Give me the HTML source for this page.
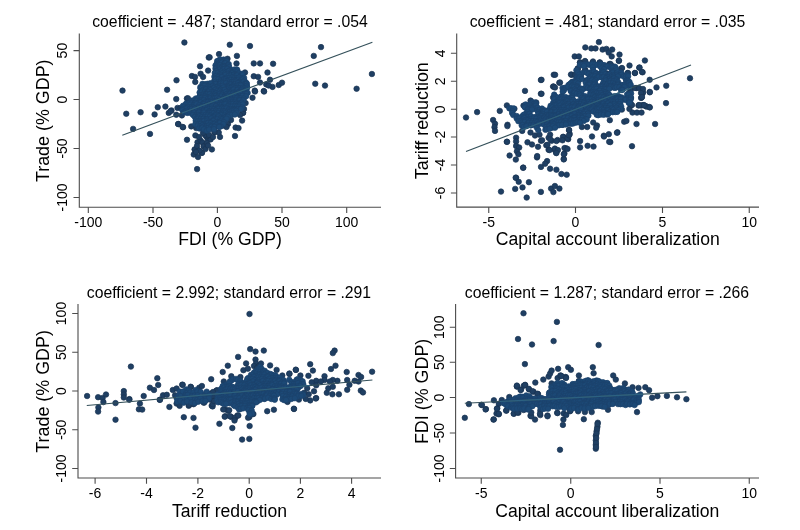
<!DOCTYPE html>
<html lang="en"><head><meta charset="utf-8"><title>Scatter plots</title>
<style>
html,body{margin:0;padding:0;background:#fff;}
body{width:800px;height:530px;overflow:hidden;}
svg{display:block;}
svg text{font-family:"Liberation Sans",sans-serif;fill:#000;}
.t{font-size:15.75px;text-anchor:middle;}
.l{font-size:17.6px;text-anchor:middle;}
.y{font-size:17.9px;text-anchor:middle;}
.k{font-size:14px;text-anchor:middle;}
.a{stroke:#4c4c4c;stroke-width:1.1;fill:none;}
.d circle{fill:#1f3f63;stroke:#1a3452;stroke-width:0.7;}
.c circle{fill:#1c4976;stroke:#1b426c;stroke-width:0.7;}
.f{stroke:#34505a;stroke-width:1.15;fill:none;}
.g{stroke:#2c6182;stroke-width:1.1;fill:none;}
</style></head>
<body>
<svg width="800" height="530" viewBox="0 0 800 530">
<rect width="800" height="530" fill="#fff"/>
<g id="p1">
<path class="a" d="M79.3 33.5V207.2H381"/>
<path class="a" d="M88.3 207.2v5.8M153 207.2v5.8M217.4 207.2v5.8M282 207.2v5.8M346.7 207.2v5.8M79.3 50.6h-5.8M79.3 99.5h-5.8M79.3 148.5h-5.8M79.3 197.5h-5.8"/>
<text class="k" x="88.3" y="227">-100</text>
<text class="k" x="153" y="227">-50</text>
<text class="k" x="217.4" y="227">0</text>
<text class="k" x="282" y="227">50</text>
<text class="k" x="346.7" y="227">100</text>
<text class="k" transform="translate(67 50.6) rotate(-90)">50</text>
<text class="k" transform="translate(67 99.5) rotate(-90)">0</text>
<text class="k" transform="translate(67 148.5) rotate(-90)">-50</text>
<text class="k" transform="translate(67 197.5) rotate(-90)">-100</text>
<text class="t" x="230" y="26.6">coefficient = .487; standard error = .054</text>
<text class="l" x="230.15" y="245.4">FDI (% GDP)</text>
<text class="y" transform="translate(49 120.75) rotate(-90)">Trade (% GDP)</text>
<g class="d"><circle cx="184.4" cy="42.5" r="2.75"/><circle cx="208.75" cy="57.5" r="2.75"/><circle cx="200" cy="66.25" r="2.75"/><circle cx="208.1" cy="70.6" r="2.75"/><circle cx="200.6" cy="73.75" r="2.75"/><circle cx="203.1" cy="76.9" r="2.75"/><circle cx="191.9" cy="76" r="2.75"/><circle cx="195" cy="76.9" r="2.75"/><circle cx="195.25" cy="81.9" r="2.75"/><circle cx="176.5" cy="80.25" r="2.75"/><circle cx="167.1" cy="89.75" r="2.75"/><circle cx="122.5" cy="90.6" r="2.75"/><circle cx="126.25" cy="113.75" r="2.75"/><circle cx="140.6" cy="112.25" r="2.75"/><circle cx="154.6" cy="114.4" r="2.75"/><circle cx="157.75" cy="107.25" r="2.75"/><circle cx="165.4" cy="106.6" r="2.75"/><circle cx="168.75" cy="112.9" r="2.75"/><circle cx="171.5" cy="110.4" r="2.75"/><circle cx="176.25" cy="99.1" r="2.75"/><circle cx="133.1" cy="128.9" r="2.75"/><circle cx="150" cy="133.9" r="2.75"/><circle cx="178.4" cy="124.1" r="2.75"/><circle cx="183.1" cy="127.25" r="2.75"/><circle cx="191.25" cy="126.4" r="2.75"/><circle cx="187" cy="139.75" r="2.75"/><circle cx="195.4" cy="135.4" r="2.75"/><circle cx="197.5" cy="142.25" r="2.75"/><circle cx="200.6" cy="140.4" r="2.75"/><circle cx="195" cy="149.75" r="2.75"/><circle cx="193.75" cy="154.5" r="2.75"/><circle cx="201.9" cy="152.9" r="2.75"/><circle cx="203.75" cy="146" r="2.75"/><circle cx="207.5" cy="138.5" r="2.75"/><circle cx="177.5" cy="107.9" r="2.75"/><circle cx="180.6" cy="107.9" r="2.75"/><circle cx="176.25" cy="114.75" r="2.75"/><circle cx="181.9" cy="115.4" r="2.75"/><circle cx="186.9" cy="98.5" r="2.75"/><circle cx="229.75" cy="44.75" r="2.75"/><circle cx="250" cy="46" r="2.75"/><circle cx="219" cy="54.1" r="2.75"/><circle cx="209.6" cy="57.25" r="2.75"/><circle cx="236.9" cy="55.9" r="2.75"/><circle cx="227.5" cy="58.75" r="2.75"/><circle cx="253.75" cy="63.4" r="2.75"/><circle cx="260" cy="63.4" r="2.75"/><circle cx="273.1" cy="63.75" r="2.75"/><circle cx="236.5" cy="63.5" r="2.75"/><circle cx="267.5" cy="72.5" r="2.75"/><circle cx="245" cy="72.5" r="2.75"/><circle cx="253.75" cy="76.25" r="2.75"/><circle cx="258.1" cy="76.9" r="2.75"/><circle cx="270" cy="79.75" r="2.75"/><circle cx="278.75" cy="85" r="2.75"/><circle cx="272.5" cy="86.9" r="2.75"/><circle cx="266.25" cy="84.4" r="2.75"/><circle cx="263.75" cy="91" r="2.75"/><circle cx="254.75" cy="90.6" r="2.75"/><circle cx="260" cy="82.5" r="2.75"/><circle cx="321" cy="47.1" r="2.75"/><circle cx="313.75" cy="55.9" r="2.75"/><circle cx="371.9" cy="74" r="2.75"/><circle cx="315.25" cy="83.75" r="2.75"/><circle cx="325" cy="85.6" r="2.75"/><circle cx="356.6" cy="88.75" r="2.75"/><circle cx="255" cy="91.5" r="2.75"/><circle cx="264.1" cy="91.5" r="2.75"/><circle cx="252.5" cy="97.75" r="2.75"/><circle cx="245.6" cy="103.1" r="2.75"/><circle cx="243.1" cy="112.9" r="2.75"/><circle cx="242.1" cy="120.6" r="2.75"/><circle cx="235.6" cy="127.5" r="2.75"/><circle cx="238.5" cy="128.1" r="2.75"/><circle cx="235" cy="136" r="2.75"/><circle cx="223.1" cy="125.6" r="2.75"/><circle cx="220" cy="136.9" r="2.75"/><circle cx="215" cy="131.9" r="2.75"/><circle cx="218.75" cy="132.5" r="2.75"/><circle cx="210.6" cy="139.4" r="2.75"/><circle cx="211.9" cy="149.4" r="2.75"/><circle cx="233.75" cy="113.75" r="2.75"/><circle cx="205" cy="130" r="2.75"/><circle cx="206.25" cy="136.25" r="2.75"/><circle cx="202.5" cy="142.5" r="2.75"/><circle cx="203.75" cy="146.25" r="2.75"/><circle cx="201.9" cy="152.5" r="2.75"/><circle cx="197.1" cy="169.1" r="2.75"/><circle cx="194.6" cy="149.4" r="2.75"/><circle cx="206.9" cy="143.1" r="2.75"/><circle cx="205" cy="135" r="2.75"/><circle cx="204.4" cy="130.6" r="2.75"/><circle cx="214.4" cy="131.9" r="2.75"/><circle cx="196.25" cy="128.1" r="2.75"/><circle cx="187.9" cy="98.3" r="2.75"/><circle cx="170.6" cy="111.1" r="2.75"/><circle cx="182.6" cy="108.1" r="2.75"/><circle cx="268.7" cy="85.5" r="2.75"/><circle cx="178.1" cy="124" r="2.75"/><circle cx="182.6" cy="127" r="2.75"/><circle cx="243" cy="112.6" r="2.75"/><circle cx="228" cy="124" r="2.75"/><circle cx="231" cy="120" r="2.75"/><circle cx="240" cy="115" r="2.75"/><circle cx="244" cy="109" r="2.75"/><circle cx="209" cy="135" r="2.75"/><circle cx="203" cy="133" r="2.75"/><circle cx="213" cy="137" r="2.75"/><circle cx="199" cy="137" r="2.75"/><circle cx="226.5" cy="127" r="2.75"/><circle cx="282" cy="82.7" r="2.75"/><circle cx="197" cy="146" r="2.75"/><circle cx="199.5" cy="150.5" r="2.75"/><circle cx="205.5" cy="149" r="2.75"/><circle cx="208" cy="145.5" r="2.75"/><circle cx="198" cy="157" r="2.75"/><circle cx="196" cy="152" r="2.75"/></g>
<g class="c"><circle cx="219.3" cy="60" r="2.75"/><circle cx="220.4" cy="59.4" r="2.75"/><circle cx="223.7" cy="59.6" r="2.75"/><circle cx="225.8" cy="60.1" r="2.75"/><circle cx="217.2" cy="61.1" r="2.75"/><circle cx="220.7" cy="62" r="2.75"/><circle cx="223.2" cy="61" r="2.75"/><circle cx="225" cy="60.9" r="2.75"/><circle cx="226.6" cy="61.2" r="2.75"/><circle cx="216.7" cy="63.8" r="2.75"/><circle cx="218.7" cy="63.8" r="2.75"/><circle cx="222" cy="62.6" r="2.75"/><circle cx="224.5" cy="63.7" r="2.75"/><circle cx="225.4" cy="63.2" r="2.75"/><circle cx="228.7" cy="64.1" r="2.75"/><circle cx="215.5" cy="65.4" r="2.75"/><circle cx="218.3" cy="65.5" r="2.75"/><circle cx="219.8" cy="65.2" r="2.75"/><circle cx="223.1" cy="66.1" r="2.75"/><circle cx="224.4" cy="66" r="2.75"/><circle cx="228.1" cy="65.4" r="2.75"/><circle cx="216" cy="67.7" r="2.75"/><circle cx="219.1" cy="67.5" r="2.75"/><circle cx="221.9" cy="67.7" r="2.75"/><circle cx="224.3" cy="67" r="2.75"/><circle cx="226.5" cy="68" r="2.75"/><circle cx="229.2" cy="67.1" r="2.75"/><circle cx="215.5" cy="68.7" r="2.75"/><circle cx="218.1" cy="70.2" r="2.75"/><circle cx="219.5" cy="69.5" r="2.75"/><circle cx="222.9" cy="69.4" r="2.75"/><circle cx="224.4" cy="68.9" r="2.75"/><circle cx="227.3" cy="68.7" r="2.75"/><circle cx="230.4" cy="70.1" r="2.75"/><circle cx="232.5" cy="70.2" r="2.75"/><circle cx="234.7" cy="69.4" r="2.75"/><circle cx="237.1" cy="69.6" r="2.75"/><circle cx="216.3" cy="70.9" r="2.75"/><circle cx="218.5" cy="72.4" r="2.75"/><circle cx="221.4" cy="71.6" r="2.75"/><circle cx="224.5" cy="71.7" r="2.75"/><circle cx="227" cy="71.9" r="2.75"/><circle cx="229.1" cy="70.9" r="2.75"/><circle cx="231.1" cy="72.1" r="2.75"/><circle cx="232.5" cy="72.4" r="2.75"/><circle cx="235.1" cy="71.6" r="2.75"/><circle cx="237.5" cy="71.6" r="2.75"/><circle cx="214.8" cy="72.9" r="2.75"/><circle cx="217.8" cy="73" r="2.75"/><circle cx="220" cy="74" r="2.75"/><circle cx="222.4" cy="73.3" r="2.75"/><circle cx="225" cy="73.6" r="2.75"/><circle cx="227.8" cy="73.8" r="2.75"/><circle cx="230.6" cy="74.5" r="2.75"/><circle cx="232.5" cy="73.2" r="2.75"/><circle cx="233.8" cy="74.4" r="2.75"/><circle cx="237.4" cy="73.9" r="2.75"/><circle cx="239" cy="73.3" r="2.75"/><circle cx="242" cy="73.8" r="2.75"/><circle cx="214.4" cy="76.7" r="2.75"/><circle cx="216.2" cy="75.9" r="2.75"/><circle cx="219.3" cy="76.5" r="2.75"/><circle cx="221.2" cy="75.5" r="2.75"/><circle cx="223" cy="76.5" r="2.75"/><circle cx="225.3" cy="75" r="2.75"/><circle cx="228.6" cy="75.8" r="2.75"/><circle cx="231.2" cy="75.4" r="2.75"/><circle cx="233.8" cy="75" r="2.75"/><circle cx="235.2" cy="76.1" r="2.75"/><circle cx="237.3" cy="75.4" r="2.75"/><circle cx="240.9" cy="76.1" r="2.75"/><circle cx="242.5" cy="75.1" r="2.75"/><circle cx="216.1" cy="78.1" r="2.75"/><circle cx="218.2" cy="77.1" r="2.75"/><circle cx="220.2" cy="78.4" r="2.75"/><circle cx="221.8" cy="77.1" r="2.75"/><circle cx="225.3" cy="78.6" r="2.75"/><circle cx="226.6" cy="78.1" r="2.75"/><circle cx="229.1" cy="78.3" r="2.75"/><circle cx="232.4" cy="77.4" r="2.75"/><circle cx="234" cy="78.3" r="2.75"/><circle cx="236.9" cy="78.3" r="2.75"/><circle cx="239.1" cy="77.6" r="2.75"/><circle cx="242.5" cy="78.2" r="2.75"/><circle cx="244.1" cy="77.9" r="2.75"/><circle cx="214.3" cy="80.7" r="2.75"/><circle cx="215.7" cy="79.2" r="2.75"/><circle cx="218.3" cy="79.4" r="2.75"/><circle cx="220.8" cy="80.3" r="2.75"/><circle cx="223.9" cy="79.4" r="2.75"/><circle cx="225.5" cy="79.5" r="2.75"/><circle cx="227.9" cy="80.4" r="2.75"/><circle cx="230.6" cy="80" r="2.75"/><circle cx="233.9" cy="79.9" r="2.75"/><circle cx="235.3" cy="80.6" r="2.75"/><circle cx="238.8" cy="79.7" r="2.75"/><circle cx="240.6" cy="80.8" r="2.75"/><circle cx="242.9" cy="79.4" r="2.75"/><circle cx="244.5" cy="80.7" r="2.75"/><circle cx="215.3" cy="82" r="2.75"/><circle cx="218.5" cy="82.2" r="2.75"/><circle cx="220.7" cy="81.7" r="2.75"/><circle cx="223" cy="81.9" r="2.75"/><circle cx="225.7" cy="81.3" r="2.75"/><circle cx="227.9" cy="81.5" r="2.75"/><circle cx="229.8" cy="82.1" r="2.75"/><circle cx="231.5" cy="82.6" r="2.75"/><circle cx="234.2" cy="81.7" r="2.75"/><circle cx="236.1" cy="81.7" r="2.75"/><circle cx="239.2" cy="82.4" r="2.75"/><circle cx="241.4" cy="82.4" r="2.75"/><circle cx="243.4" cy="81.8" r="2.75"/><circle cx="246.4" cy="82.9" r="2.75"/><circle cx="202.5" cy="83.8" r="2.75"/><circle cx="205.3" cy="84.2" r="2.75"/><circle cx="207.3" cy="83.8" r="2.75"/><circle cx="209.9" cy="83.4" r="2.75"/><circle cx="211.1" cy="83.4" r="2.75"/><circle cx="214.4" cy="84.5" r="2.75"/><circle cx="215.9" cy="83.9" r="2.75"/><circle cx="219.5" cy="84.3" r="2.75"/><circle cx="220.6" cy="83.6" r="2.75"/><circle cx="223.1" cy="83.4" r="2.75"/><circle cx="225.9" cy="83.3" r="2.75"/><circle cx="229.3" cy="84" r="2.75"/><circle cx="230.9" cy="84.4" r="2.75"/><circle cx="233.8" cy="84.7" r="2.75"/><circle cx="235.5" cy="83.8" r="2.75"/><circle cx="237.9" cy="83.2" r="2.75"/><circle cx="240.3" cy="84.5" r="2.75"/><circle cx="243.8" cy="84.6" r="2.75"/><circle cx="245.6" cy="84.3" r="2.75"/><circle cx="246.8" cy="83.8" r="2.75"/><circle cx="200.4" cy="87" r="2.75"/><circle cx="203.5" cy="85.6" r="2.75"/><circle cx="204.9" cy="85.7" r="2.75"/><circle cx="208.2" cy="86.5" r="2.75"/><circle cx="210.2" cy="86.9" r="2.75"/><circle cx="212.7" cy="86.1" r="2.75"/><circle cx="214.6" cy="87" r="2.75"/><circle cx="217" cy="86.9" r="2.75"/><circle cx="220.2" cy="86.3" r="2.75"/><circle cx="222.6" cy="85.8" r="2.75"/><circle cx="225.6" cy="87.1" r="2.75"/><circle cx="227.9" cy="86.4" r="2.75"/><circle cx="229" cy="86.8" r="2.75"/><circle cx="231.7" cy="86.9" r="2.75"/><circle cx="234" cy="86.3" r="2.75"/><circle cx="237.5" cy="85.6" r="2.75"/><circle cx="239.4" cy="85.4" r="2.75"/><circle cx="240.9" cy="85.6" r="2.75"/><circle cx="245" cy="87" r="2.75"/><circle cx="246.8" cy="85.8" r="2.75"/><circle cx="200.5" cy="88.4" r="2.75"/><circle cx="202" cy="88.1" r="2.75"/><circle cx="204.7" cy="88.6" r="2.75"/><circle cx="207.4" cy="88.7" r="2.75"/><circle cx="209.3" cy="89.1" r="2.75"/><circle cx="212.3" cy="88.9" r="2.75"/><circle cx="213.9" cy="88.1" r="2.75"/><circle cx="216.6" cy="89" r="2.75"/><circle cx="218.9" cy="88.3" r="2.75"/><circle cx="221.2" cy="89" r="2.75"/><circle cx="223.4" cy="87.5" r="2.75"/><circle cx="226.5" cy="89" r="2.75"/><circle cx="228.9" cy="88.4" r="2.75"/><circle cx="231.4" cy="87.9" r="2.75"/><circle cx="233.5" cy="87.5" r="2.75"/><circle cx="235" cy="88.2" r="2.75"/><circle cx="238.1" cy="88.1" r="2.75"/><circle cx="239.7" cy="88.6" r="2.75"/><circle cx="242.9" cy="87.8" r="2.75"/><circle cx="245" cy="88.1" r="2.75"/><circle cx="247.2" cy="87.5" r="2.75"/><circle cx="201.6" cy="90.9" r="2.75"/><circle cx="203.1" cy="90.1" r="2.75"/><circle cx="205.9" cy="89.5" r="2.75"/><circle cx="207.3" cy="91.1" r="2.75"/><circle cx="210.2" cy="90.3" r="2.75"/><circle cx="213.7" cy="91.2" r="2.75"/><circle cx="215.3" cy="89.8" r="2.75"/><circle cx="217.3" cy="91.1" r="2.75"/><circle cx="220.8" cy="89.8" r="2.75"/><circle cx="223.1" cy="90.1" r="2.75"/><circle cx="224.9" cy="89.7" r="2.75"/><circle cx="228" cy="91.2" r="2.75"/><circle cx="229.2" cy="90.6" r="2.75"/><circle cx="231.5" cy="91" r="2.75"/><circle cx="233.7" cy="89.6" r="2.75"/><circle cx="237.3" cy="90" r="2.75"/><circle cx="240" cy="91" r="2.75"/><circle cx="242.1" cy="89.7" r="2.75"/><circle cx="244.5" cy="91.1" r="2.75"/><circle cx="246.4" cy="89.6" r="2.75"/><circle cx="199.6" cy="92.5" r="2.75"/><circle cx="202.2" cy="91.6" r="2.75"/><circle cx="204.7" cy="92" r="2.75"/><circle cx="206.5" cy="93" r="2.75"/><circle cx="208.6" cy="92" r="2.75"/><circle cx="212.2" cy="92" r="2.75"/><circle cx="213.7" cy="92.5" r="2.75"/><circle cx="215.9" cy="93.1" r="2.75"/><circle cx="219.8" cy="91.6" r="2.75"/><circle cx="221.2" cy="92.9" r="2.75"/><circle cx="223.5" cy="93.2" r="2.75"/><circle cx="226.1" cy="91.8" r="2.75"/><circle cx="228.6" cy="92.7" r="2.75"/><circle cx="230.6" cy="92.7" r="2.75"/><circle cx="233.8" cy="92.4" r="2.75"/><circle cx="235.7" cy="93" r="2.75"/><circle cx="238.4" cy="92.4" r="2.75"/><circle cx="241.3" cy="91.8" r="2.75"/><circle cx="243.4" cy="91.8" r="2.75"/><circle cx="245.5" cy="91.9" r="2.75"/><circle cx="247.6" cy="92.9" r="2.75"/><circle cx="200.1" cy="95.2" r="2.75"/><circle cx="203.4" cy="94.6" r="2.75"/><circle cx="206.2" cy="94" r="2.75"/><circle cx="207.5" cy="94.1" r="2.75"/><circle cx="209.7" cy="94.2" r="2.75"/><circle cx="213.1" cy="94.5" r="2.75"/><circle cx="214.9" cy="94.6" r="2.75"/><circle cx="217" cy="95.1" r="2.75"/><circle cx="219.5" cy="94" r="2.75"/><circle cx="221.9" cy="94.8" r="2.75"/><circle cx="225.5" cy="95" r="2.75"/><circle cx="226.5" cy="94.3" r="2.75"/><circle cx="229.5" cy="94" r="2.75"/><circle cx="232.9" cy="93.7" r="2.75"/><circle cx="234.5" cy="95" r="2.75"/><circle cx="237.8" cy="93.8" r="2.75"/><circle cx="239.2" cy="94.9" r="2.75"/><circle cx="240.9" cy="94" r="2.75"/><circle cx="244.8" cy="93.8" r="2.75"/><circle cx="246.3" cy="94.1" r="2.75"/><circle cx="199.4" cy="96.9" r="2.75"/><circle cx="202.8" cy="96.7" r="2.75"/><circle cx="205.2" cy="96.5" r="2.75"/><circle cx="206.7" cy="97.2" r="2.75"/><circle cx="209.1" cy="97.1" r="2.75"/><circle cx="211.2" cy="96.3" r="2.75"/><circle cx="213.5" cy="96.7" r="2.75"/><circle cx="215.9" cy="96" r="2.75"/><circle cx="218.4" cy="96.5" r="2.75"/><circle cx="221" cy="96.5" r="2.75"/><circle cx="224.6" cy="96.9" r="2.75"/><circle cx="226.8" cy="96" r="2.75"/><circle cx="228.3" cy="95.8" r="2.75"/><circle cx="231.2" cy="96.3" r="2.75"/><circle cx="232.9" cy="95.7" r="2.75"/><circle cx="235.1" cy="96.1" r="2.75"/><circle cx="237.9" cy="97.3" r="2.75"/><circle cx="240.9" cy="96.2" r="2.75"/><circle cx="242.6" cy="95.9" r="2.75"/><circle cx="246.1" cy="96.3" r="2.75"/><circle cx="195.8" cy="98.5" r="2.75"/><circle cx="198.6" cy="98" r="2.75"/><circle cx="201.3" cy="98.2" r="2.75"/><circle cx="203.7" cy="98.9" r="2.75"/><circle cx="205.1" cy="98.1" r="2.75"/><circle cx="207.7" cy="99" r="2.75"/><circle cx="210.3" cy="98.4" r="2.75"/><circle cx="213.6" cy="98.2" r="2.75"/><circle cx="214.9" cy="98.4" r="2.75"/><circle cx="217.2" cy="97.8" r="2.75"/><circle cx="219.2" cy="98.9" r="2.75"/><circle cx="222.6" cy="99.2" r="2.75"/><circle cx="225.8" cy="98.3" r="2.75"/><circle cx="227.6" cy="99.4" r="2.75"/><circle cx="229.2" cy="99" r="2.75"/><circle cx="232.4" cy="99.5" r="2.75"/><circle cx="235.2" cy="98.2" r="2.75"/><circle cx="237.1" cy="97.9" r="2.75"/><circle cx="239.2" cy="98.5" r="2.75"/><circle cx="240.9" cy="98.4" r="2.75"/><circle cx="243.8" cy="98.6" r="2.75"/><circle cx="192.3" cy="100.5" r="2.75"/><circle cx="194.1" cy="100.6" r="2.75"/><circle cx="196.5" cy="100.7" r="2.75"/><circle cx="199.9" cy="100.7" r="2.75"/><circle cx="201.8" cy="100.3" r="2.75"/><circle cx="203.6" cy="100.4" r="2.75"/><circle cx="207.6" cy="100.8" r="2.75"/><circle cx="208.9" cy="101" r="2.75"/><circle cx="211.1" cy="100.7" r="2.75"/><circle cx="214.3" cy="101.5" r="2.75"/><circle cx="216.3" cy="100.9" r="2.75"/><circle cx="219.7" cy="101.2" r="2.75"/><circle cx="221.5" cy="100.9" r="2.75"/><circle cx="223.5" cy="100.6" r="2.75"/><circle cx="225.7" cy="101.3" r="2.75"/><circle cx="229.2" cy="100.5" r="2.75"/><circle cx="231.6" cy="99.9" r="2.75"/><circle cx="232.6" cy="100.7" r="2.75"/><circle cx="235.4" cy="100.5" r="2.75"/><circle cx="239" cy="100.1" r="2.75"/><circle cx="239.9" cy="100.2" r="2.75"/><circle cx="243.2" cy="100.2" r="2.75"/><circle cx="186.2" cy="103.5" r="2.75"/><circle cx="188.6" cy="103.2" r="2.75"/><circle cx="191.7" cy="103.1" r="2.75"/><circle cx="194.5" cy="103.4" r="2.75"/><circle cx="195.5" cy="103" r="2.75"/><circle cx="198.5" cy="102.9" r="2.75"/><circle cx="200.7" cy="102.4" r="2.75"/><circle cx="203.7" cy="102.9" r="2.75"/><circle cx="205.2" cy="102.4" r="2.75"/><circle cx="207.8" cy="102.2" r="2.75"/><circle cx="210.5" cy="102.1" r="2.75"/><circle cx="212.1" cy="102" r="2.75"/><circle cx="214.6" cy="103.2" r="2.75"/><circle cx="217" cy="102.7" r="2.75"/><circle cx="220.6" cy="102.8" r="2.75"/><circle cx="221.9" cy="103.5" r="2.75"/><circle cx="225.6" cy="102" r="2.75"/><circle cx="226.9" cy="102.8" r="2.75"/><circle cx="230.2" cy="102.6" r="2.75"/><circle cx="232.5" cy="102.4" r="2.75"/><circle cx="234.9" cy="102.5" r="2.75"/><circle cx="236.6" cy="103.3" r="2.75"/><circle cx="239.9" cy="103.4" r="2.75"/><circle cx="241.8" cy="102.7" r="2.75"/><circle cx="183.1" cy="105.7" r="2.75"/><circle cx="186.1" cy="104.2" r="2.75"/><circle cx="188" cy="104.7" r="2.75"/><circle cx="190.3" cy="104.7" r="2.75"/><circle cx="193.3" cy="105.8" r="2.75"/><circle cx="194.1" cy="105.3" r="2.75"/><circle cx="196.6" cy="104.1" r="2.75"/><circle cx="199.3" cy="105.3" r="2.75"/><circle cx="203" cy="104.2" r="2.75"/><circle cx="204.2" cy="104" r="2.75"/><circle cx="207" cy="104.9" r="2.75"/><circle cx="209.1" cy="104.5" r="2.75"/><circle cx="212.2" cy="105.5" r="2.75"/><circle cx="213.7" cy="104.7" r="2.75"/><circle cx="216.7" cy="105.4" r="2.75"/><circle cx="219.8" cy="104.7" r="2.75"/><circle cx="221.6" cy="105" r="2.75"/><circle cx="224.2" cy="104.2" r="2.75"/><circle cx="225.5" cy="104.2" r="2.75"/><circle cx="229.3" cy="104.4" r="2.75"/><circle cx="230.9" cy="104.2" r="2.75"/><circle cx="233" cy="104" r="2.75"/><circle cx="235.8" cy="104.2" r="2.75"/><circle cx="238.3" cy="104.5" r="2.75"/><circle cx="240" cy="104.8" r="2.75"/><circle cx="242.7" cy="104.4" r="2.75"/><circle cx="184.1" cy="106.8" r="2.75"/><circle cx="187.1" cy="106.8" r="2.75"/><circle cx="188.1" cy="107.1" r="2.75"/><circle cx="191.6" cy="107.2" r="2.75"/><circle cx="193.3" cy="107.7" r="2.75"/><circle cx="196.8" cy="107.8" r="2.75"/><circle cx="198.4" cy="107.6" r="2.75"/><circle cx="201.3" cy="106.4" r="2.75"/><circle cx="202.4" cy="106.4" r="2.75"/><circle cx="205" cy="106.2" r="2.75"/><circle cx="207.8" cy="107.4" r="2.75"/><circle cx="210.2" cy="107" r="2.75"/><circle cx="212" cy="106.4" r="2.75"/><circle cx="216.1" cy="106.1" r="2.75"/><circle cx="217.7" cy="107.5" r="2.75"/><circle cx="220.6" cy="107.4" r="2.75"/><circle cx="222.3" cy="107.5" r="2.75"/><circle cx="225.5" cy="107.4" r="2.75"/><circle cx="228.2" cy="106.2" r="2.75"/><circle cx="230.5" cy="106.8" r="2.75"/><circle cx="232.5" cy="106.5" r="2.75"/><circle cx="235.2" cy="106.1" r="2.75"/><circle cx="237" cy="106.5" r="2.75"/><circle cx="239.1" cy="106.7" r="2.75"/><circle cx="242" cy="107.5" r="2.75"/><circle cx="183.3" cy="109.1" r="2.75"/><circle cx="185.6" cy="108.5" r="2.75"/><circle cx="187" cy="108.4" r="2.75"/><circle cx="189.8" cy="108.9" r="2.75"/><circle cx="191.6" cy="109" r="2.75"/><circle cx="194.7" cy="108.7" r="2.75"/><circle cx="197.4" cy="109.9" r="2.75"/><circle cx="199.2" cy="109.7" r="2.75"/><circle cx="201.8" cy="109.5" r="2.75"/><circle cx="203.8" cy="109.9" r="2.75"/><circle cx="206.8" cy="109.9" r="2.75"/><circle cx="208.8" cy="108.9" r="2.75"/><circle cx="212.1" cy="108.5" r="2.75"/><circle cx="213.7" cy="109.4" r="2.75"/><circle cx="217.3" cy="108.7" r="2.75"/><circle cx="218.3" cy="108.8" r="2.75"/><circle cx="222.2" cy="108.4" r="2.75"/><circle cx="223.9" cy="108.8" r="2.75"/><circle cx="226.4" cy="108.5" r="2.75"/><circle cx="228.7" cy="109.7" r="2.75"/><circle cx="231.5" cy="109.3" r="2.75"/><circle cx="233.3" cy="109.2" r="2.75"/><circle cx="235" cy="109.6" r="2.75"/><circle cx="238.4" cy="109" r="2.75"/><circle cx="240.8" cy="108.9" r="2.75"/><circle cx="182.5" cy="110.5" r="2.75"/><circle cx="184" cy="112" r="2.75"/><circle cx="186.9" cy="110.8" r="2.75"/><circle cx="189.3" cy="112" r="2.75"/><circle cx="191.1" cy="111.8" r="2.75"/><circle cx="193" cy="112" r="2.75"/><circle cx="196.1" cy="110.6" r="2.75"/><circle cx="199.1" cy="111.4" r="2.75"/><circle cx="201.7" cy="111.7" r="2.75"/><circle cx="203.8" cy="111.1" r="2.75"/><circle cx="206.6" cy="110.3" r="2.75"/><circle cx="208.8" cy="111.5" r="2.75"/><circle cx="210.1" cy="111.7" r="2.75"/><circle cx="212.8" cy="111.2" r="2.75"/><circle cx="216" cy="110.6" r="2.75"/><circle cx="217.3" cy="111.4" r="2.75"/><circle cx="219.3" cy="111.2" r="2.75"/><circle cx="223" cy="111.1" r="2.75"/><circle cx="224.4" cy="111.7" r="2.75"/><circle cx="227.9" cy="111.6" r="2.75"/><circle cx="229.8" cy="111.8" r="2.75"/><circle cx="232.6" cy="110.5" r="2.75"/><circle cx="234.3" cy="110.4" r="2.75"/><circle cx="236.1" cy="110.8" r="2.75"/><circle cx="185.2" cy="112.3" r="2.75"/><circle cx="187.4" cy="112.9" r="2.75"/><circle cx="190.3" cy="112.8" r="2.75"/><circle cx="192.7" cy="113.5" r="2.75"/><circle cx="194.3" cy="112.5" r="2.75"/><circle cx="197.6" cy="113.1" r="2.75"/><circle cx="199" cy="112.5" r="2.75"/><circle cx="202.9" cy="113.4" r="2.75"/><circle cx="204.2" cy="112.6" r="2.75"/><circle cx="207.8" cy="113.5" r="2.75"/><circle cx="209.7" cy="112.9" r="2.75"/><circle cx="211.4" cy="113" r="2.75"/><circle cx="213.5" cy="113.4" r="2.75"/><circle cx="216.4" cy="113.8" r="2.75"/><circle cx="218.7" cy="113.1" r="2.75"/><circle cx="221.3" cy="114" r="2.75"/><circle cx="223.4" cy="113.6" r="2.75"/><circle cx="225.6" cy="113.3" r="2.75"/><circle cx="228.1" cy="113.9" r="2.75"/><circle cx="230.5" cy="113.8" r="2.75"/><circle cx="233.6" cy="113.1" r="2.75"/><circle cx="236.5" cy="113" r="2.75"/><circle cx="193" cy="115" r="2.75"/><circle cx="195.9" cy="115.7" r="2.75"/><circle cx="198.8" cy="115" r="2.75"/><circle cx="201.6" cy="116.1" r="2.75"/><circle cx="202.4" cy="115.5" r="2.75"/><circle cx="205.6" cy="115" r="2.75"/><circle cx="208" cy="114.9" r="2.75"/><circle cx="210.8" cy="115.5" r="2.75"/><circle cx="213.7" cy="116.1" r="2.75"/><circle cx="216.2" cy="115.1" r="2.75"/><circle cx="218.3" cy="115.5" r="2.75"/><circle cx="220.5" cy="116.2" r="2.75"/><circle cx="221.7" cy="115.2" r="2.75"/><circle cx="224.7" cy="115.6" r="2.75"/><circle cx="226.8" cy="116.2" r="2.75"/><circle cx="229.2" cy="115" r="2.75"/><circle cx="231.5" cy="115.1" r="2.75"/><circle cx="234.9" cy="114.5" r="2.75"/><circle cx="194.9" cy="117" r="2.75"/><circle cx="197.8" cy="116.9" r="2.75"/><circle cx="199.5" cy="116.5" r="2.75"/><circle cx="201.6" cy="117.3" r="2.75"/><circle cx="204.6" cy="117.3" r="2.75"/><circle cx="207.5" cy="116.6" r="2.75"/><circle cx="209.9" cy="116.7" r="2.75"/><circle cx="212.5" cy="117.4" r="2.75"/><circle cx="213.9" cy="117.6" r="2.75"/><circle cx="217.2" cy="118.2" r="2.75"/><circle cx="218.7" cy="116.5" r="2.75"/><circle cx="220.7" cy="117.9" r="2.75"/><circle cx="224.1" cy="117.7" r="2.75"/><circle cx="225.5" cy="117.4" r="2.75"/><circle cx="227.7" cy="116.7" r="2.75"/><circle cx="196.2" cy="119.2" r="2.75"/><circle cx="198" cy="118.7" r="2.75"/><circle cx="200.7" cy="119.1" r="2.75"/><circle cx="203.3" cy="118.9" r="2.75"/><circle cx="206.1" cy="119.4" r="2.75"/><circle cx="207.2" cy="119.3" r="2.75"/><circle cx="211.3" cy="118.5" r="2.75"/><circle cx="213.1" cy="120.3" r="2.75"/><circle cx="215.1" cy="119.6" r="2.75"/><circle cx="217.5" cy="119.1" r="2.75"/><circle cx="220.3" cy="119.6" r="2.75"/><circle cx="222.2" cy="119.4" r="2.75"/><circle cx="224.9" cy="119.9" r="2.75"/><circle cx="226.5" cy="118.7" r="2.75"/><circle cx="195.7" cy="120.7" r="2.75"/><circle cx="197.8" cy="121.4" r="2.75"/><circle cx="200.2" cy="121.3" r="2.75"/><circle cx="202" cy="121.4" r="2.75"/><circle cx="203.8" cy="121.2" r="2.75"/><circle cx="207.3" cy="120.7" r="2.75"/><circle cx="208.6" cy="122.1" r="2.75"/><circle cx="212" cy="121.6" r="2.75"/><circle cx="213.4" cy="120.8" r="2.75"/><circle cx="216.2" cy="122.3" r="2.75"/><circle cx="219" cy="122.3" r="2.75"/><circle cx="220.8" cy="121.4" r="2.75"/><circle cx="223.8" cy="122.1" r="2.75"/><circle cx="195.3" cy="124.2" r="2.75"/><circle cx="198.3" cy="124" r="2.75"/><circle cx="200.8" cy="123.8" r="2.75"/><circle cx="203.4" cy="124.4" r="2.75"/><circle cx="206.4" cy="123.5" r="2.75"/><circle cx="208.1" cy="123.1" r="2.75"/><circle cx="211" cy="122.9" r="2.75"/><circle cx="212.6" cy="124.2" r="2.75"/><circle cx="214.5" cy="123.9" r="2.75"/><circle cx="217.8" cy="123.7" r="2.75"/><circle cx="219.8" cy="123" r="2.75"/><circle cx="223.3" cy="124.1" r="2.75"/><circle cx="197.7" cy="125.7" r="2.75"/><circle cx="200" cy="126.4" r="2.75"/><circle cx="202.6" cy="125.2" r="2.75"/><circle cx="203.7" cy="126.5" r="2.75"/><circle cx="206.7" cy="126.2" r="2.75"/><circle cx="208.8" cy="125.6" r="2.75"/><circle cx="211.5" cy="126.1" r="2.75"/><circle cx="214.9" cy="125.7" r="2.75"/><circle cx="216.6" cy="125.4" r="2.75"/><circle cx="218.4" cy="126.5" r="2.75"/><circle cx="220.6" cy="126.5" r="2.75"/><circle cx="199.3" cy="128.5" r="2.75"/><circle cx="201.5" cy="128.5" r="2.75"/><circle cx="202.4" cy="127.7" r="2.75"/><circle cx="205.9" cy="128.1" r="2.75"/><circle cx="208.3" cy="127.9" r="2.75"/><circle cx="211.3" cy="127" r="2.75"/><circle cx="212.9" cy="128.6" r="2.75"/><circle cx="214.5" cy="127" r="2.75"/><circle cx="219.2" cy="126.9" r="2.75"/><circle cx="204" cy="129.3" r="2.75"/><circle cx="206.7" cy="130.7" r="2.75"/><circle cx="209.1" cy="129.6" r="2.75"/><circle cx="213.9" cy="129.2" r="2.75"/></g>
<path class="f" d="M122.3 135.2L372.4 42.2"/>
<path class="g" d="M182 113L250 87.71"/>
</g>
<g id="p2">
<path class="a" d="M456.7 33.5V207.1H759"/>
<path class="a" d="M488.75 207.1v5.8M575.5 207.1v5.8M662.5 207.1v5.8M749.25 207.1v5.8M456.7 53.25h-5.8M456.7 81.25h-5.8M456.7 109.25h-5.8M456.7 137h-5.8M456.7 165h-5.8M456.7 193h-5.8"/>
<text class="k" x="488.75" y="227">-5</text>
<text class="k" x="575.5" y="227">0</text>
<text class="k" x="662.5" y="227">5</text>
<text class="k" x="749.25" y="227">10</text>
<text class="k" transform="translate(445 53.25) rotate(-90)">4</text>
<text class="k" transform="translate(445 81.25) rotate(-90)">2</text>
<text class="k" transform="translate(445 109.25) rotate(-90)">0</text>
<text class="k" transform="translate(445 137) rotate(-90)">-2</text>
<text class="k" transform="translate(445 165) rotate(-90)">-4</text>
<text class="k" transform="translate(445 193) rotate(-90)">-6</text>
<text class="t" x="607.5" y="26.6">coefficient = .481; standard error = .035</text>
<text class="l" x="607.85" y="245.4">Capital account liberalization</text>
<text class="y" transform="translate(428 120.7) rotate(-90)">Tariff reduction</text>
<g class="d"><circle cx="466" cy="117.5" r="2.75"/><circle cx="477.1" cy="112.1" r="2.75"/><circle cx="499.75" cy="110.9" r="2.75"/><circle cx="506.9" cy="105.4" r="2.75"/><circle cx="525" cy="90.9" r="2.75"/><circle cx="540.9" cy="80" r="2.75"/><circle cx="540.9" cy="93.75" r="2.75"/><circle cx="553.75" cy="74.75" r="2.75"/><circle cx="553.1" cy="86.6" r="2.75"/><circle cx="493.1" cy="120" r="2.75"/><circle cx="495" cy="123.75" r="2.75"/><circle cx="507.5" cy="124.75" r="2.75"/><circle cx="514.4" cy="108.75" r="2.75"/><circle cx="523.5" cy="105.6" r="2.75"/><circle cx="530.6" cy="100.6" r="2.75"/><circle cx="536.25" cy="102.5" r="2.75"/><circle cx="553.1" cy="97.5" r="2.75"/><circle cx="598.9" cy="42.1" r="2.75"/><circle cx="585.3" cy="47.4" r="2.75"/><circle cx="591.3" cy="48.4" r="2.75"/><circle cx="595.5" cy="48.4" r="2.75"/><circle cx="602.6" cy="49.6" r="2.75"/><circle cx="606.4" cy="48.9" r="2.75"/><circle cx="612.2" cy="49.6" r="2.75"/><circle cx="608.7" cy="52.6" r="2.75"/><circle cx="611.7" cy="56.4" r="2.75"/><circle cx="619.5" cy="54.6" r="2.75"/><circle cx="618.8" cy="60.9" r="2.75"/><circle cx="574.7" cy="56.4" r="2.75"/><circle cx="578.9" cy="56.4" r="2.75"/><circle cx="644.9" cy="60.5" r="2.75"/><circle cx="629.5" cy="65.5" r="2.75"/><circle cx="639.3" cy="67.7" r="2.75"/><circle cx="642.6" cy="72.3" r="2.75"/><circle cx="634.8" cy="73" r="2.75"/><circle cx="627.5" cy="73" r="2.75"/><circle cx="621.5" cy="68.5" r="2.75"/><circle cx="555.1" cy="74.8" r="2.75"/><circle cx="541.5" cy="79.8" r="2.75"/><circle cx="559.3" cy="82.8" r="2.75"/><circle cx="541.5" cy="93.8" r="2.75"/><circle cx="649.7" cy="79.8" r="2.75"/><circle cx="656.5" cy="87.4" r="2.75"/><circle cx="649.7" cy="91.9" r="2.75"/><circle cx="642.6" cy="93.4" r="2.75"/><circle cx="641.1" cy="97.9" r="2.75"/><circle cx="636.6" cy="88.1" r="2.75"/><circle cx="641.1" cy="105.5" r="2.75"/><circle cx="645.7" cy="106.2" r="2.75"/><circle cx="649.4" cy="107" r="2.75"/><circle cx="580" cy="62.5" r="2.75"/><circle cx="585.3" cy="61.7" r="2.75"/><circle cx="592.8" cy="62.5" r="2.75"/><circle cx="599.6" cy="62.5" r="2.75"/><circle cx="585.3" cy="70" r="2.75"/><circle cx="577.7" cy="68.5" r="2.75"/><circle cx="571.7" cy="74.8" r="2.75"/><circle cx="576.2" cy="74.8" r="2.75"/><circle cx="609.4" cy="64" r="2.75"/><circle cx="612.5" cy="66.2" r="2.75"/><circle cx="602.6" cy="68.5" r="2.75"/><circle cx="592.8" cy="67" r="2.75"/><circle cx="586" cy="80.6" r="2.75"/><circle cx="553.6" cy="86.6" r="2.75"/><circle cx="630.6" cy="105.5" r="2.75"/><circle cx="626" cy="79.8" r="2.75"/><circle cx="629" cy="85.8" r="2.75"/><circle cx="630.6" cy="90.4" r="2.75"/><circle cx="629" cy="96.4" r="2.75"/><circle cx="690" cy="78.25" r="2.75"/><circle cx="666.25" cy="85.75" r="2.75"/><circle cx="560" cy="82.5" r="2.75"/><circle cx="555" cy="87.5" r="2.75"/><circle cx="494.5" cy="127.2" r="2.75"/><circle cx="495" cy="130.9" r="2.75"/><circle cx="507.4" cy="126.1" r="2.75"/><circle cx="506.8" cy="141.8" r="2.75"/><circle cx="509.6" cy="155.5" r="2.75"/><circle cx="516.1" cy="137.7" r="2.75"/><circle cx="516.1" cy="141.5" r="2.75"/><circle cx="516.1" cy="146" r="2.75"/><circle cx="519.2" cy="147.5" r="2.75"/><circle cx="516.9" cy="151.3" r="2.75"/><circle cx="518.4" cy="154.3" r="2.75"/><circle cx="515.8" cy="159.6" r="2.75"/><circle cx="523.2" cy="167.6" r="2.75"/><circle cx="516.1" cy="177.7" r="2.75"/><circle cx="537" cy="157.4" r="2.75"/><circle cx="541" cy="166.9" r="2.75"/><circle cx="547.1" cy="161.1" r="2.75"/><circle cx="550.1" cy="168.7" r="2.75"/><circle cx="556.4" cy="169.7" r="2.75"/><circle cx="561.4" cy="174" r="2.75"/><circle cx="566.7" cy="174.7" r="2.75"/><circle cx="563.7" cy="158.9" r="2.75"/><circle cx="564.4" cy="153.6" r="2.75"/><circle cx="565.9" cy="148.3" r="2.75"/><circle cx="548.6" cy="149.8" r="2.75"/><circle cx="554.6" cy="149.8" r="2.75"/><circle cx="556.1" cy="152.8" r="2.75"/><circle cx="546.3" cy="145.3" r="2.75"/><circle cx="527.5" cy="142.3" r="2.75"/><circle cx="532" cy="144.5" r="2.75"/><circle cx="538" cy="146.8" r="2.75"/><circle cx="541" cy="140.8" r="2.75"/><circle cx="548.6" cy="137.7" r="2.75"/><circle cx="551.6" cy="140.8" r="2.75"/><circle cx="557.6" cy="140" r="2.75"/><circle cx="563.7" cy="137" r="2.75"/><circle cx="568.2" cy="139.2" r="2.75"/><circle cx="569" cy="130.2" r="2.75"/><circle cx="569.7" cy="134" r="2.75"/><circle cx="550.1" cy="134.7" r="2.75"/><circle cx="530.5" cy="132.5" r="2.75"/><circle cx="535" cy="135.5" r="2.75"/><circle cx="539.5" cy="134.7" r="2.75"/><circle cx="522.2" cy="130.9" r="2.75"/><circle cx="666" cy="103.1" r="2.75"/><circle cx="655.1" cy="124" r="2.75"/><circle cx="636.5" cy="124" r="2.75"/><circle cx="632" cy="146.2" r="2.75"/><circle cx="624.2" cy="121.7" r="2.75"/><circle cx="626.4" cy="120.9" r="2.75"/><circle cx="609.8" cy="120.2" r="2.75"/><circle cx="617.4" cy="132.3" r="2.75"/><circle cx="603.8" cy="135.7" r="2.75"/><circle cx="608.8" cy="134.2" r="2.75"/><circle cx="610.3" cy="142.1" r="2.75"/><circle cx="592" cy="136.5" r="2.75"/><circle cx="580.1" cy="141" r="2.75"/><circle cx="580.1" cy="147.4" r="2.75"/><circle cx="587.6" cy="145.8" r="2.75"/><circle cx="593.5" cy="146.6" r="2.75"/><circle cx="569.1" cy="130" r="2.75"/><circle cx="563" cy="136.8" r="2.75"/><circle cx="567.5" cy="138.3" r="2.75"/><circle cx="569.1" cy="135.3" r="2.75"/><circle cx="564.5" cy="148.1" r="2.75"/><circle cx="567.5" cy="148.9" r="2.75"/><circle cx="563.8" cy="154.2" r="2.75"/><circle cx="563.8" cy="159.4" r="2.75"/><circle cx="632.5" cy="112.6" r="2.75"/><circle cx="637" cy="112.6" r="2.75"/><circle cx="641.5" cy="112.6" r="2.75"/><circle cx="638.5" cy="105.5" r="2.75"/><circle cx="643" cy="105.1" r="2.75"/><circle cx="646.8" cy="106.6" r="2.75"/><circle cx="649.8" cy="107.4" r="2.75"/><circle cx="641.5" cy="97.5" r="2.75"/><circle cx="649.8" cy="92.3" r="2.75"/><circle cx="643" cy="92.3" r="2.75"/><circle cx="630.9" cy="104.3" r="2.75"/><circle cx="629.4" cy="108.9" r="2.75"/><circle cx="627.9" cy="96" r="2.75"/><circle cx="593.2" cy="122.5" r="2.75"/><circle cx="597" cy="125.5" r="2.75"/><circle cx="596.2" cy="127.7" r="2.75"/><circle cx="581.9" cy="127" r="2.75"/><circle cx="587.2" cy="127" r="2.75"/><circle cx="563" cy="124.7" r="2.75"/><circle cx="572.1" cy="121.7" r="2.75"/><circle cx="621.9" cy="109.6" r="2.75"/><circle cx="501" cy="191.6" r="2.75"/><circle cx="526.7" cy="197.6" r="2.75"/><circle cx="515.2" cy="188.9" r="2.75"/><circle cx="522.5" cy="187.4" r="2.75"/><circle cx="515.7" cy="177.7" r="2.75"/><circle cx="518.7" cy="181.8" r="2.75"/><circle cx="528.9" cy="182.2" r="2.75"/><circle cx="540.9" cy="191.9" r="2.75"/><circle cx="551.1" cy="188.6" r="2.75"/><circle cx="554.9" cy="186" r="2.75"/><circle cx="559.4" cy="188.6" r="2.75"/><circle cx="553.4" cy="192.1" r="2.75"/><circle cx="523.2" cy="167.8" r="2.75"/><circle cx="545.1" cy="163.7" r="2.75"/><circle cx="537.2" cy="156.1" r="2.75"/><circle cx="507.1" cy="141.8" r="2.75"/><circle cx="542.1" cy="140.3" r="2.75"/><circle cx="547.4" cy="144.8" r="2.75"/><circle cx="549.6" cy="150.1" r="2.75"/><circle cx="554.9" cy="148.6" r="2.75"/><circle cx="557.9" cy="150.1" r="2.75"/><circle cx="556.4" cy="153.1" r="2.75"/><circle cx="550.4" cy="139.5" r="2.75"/><circle cx="556.4" cy="141" r="2.75"/><circle cx="562.5" cy="140.3" r="2.75"/><circle cx="604" cy="136.5" r="2.75"/><circle cx="609.2" cy="141.8" r="2.75"/><circle cx="617" cy="132.75" r="2.75"/><circle cx="580" cy="62.5" r="2.75"/><circle cx="585" cy="61" r="2.75"/><circle cx="593" cy="61.5" r="2.75"/><circle cx="600" cy="62.5" r="2.75"/><circle cx="578" cy="68.5" r="2.75"/><circle cx="585" cy="70.5" r="2.75"/><circle cx="593" cy="66" r="2.75"/><circle cx="603" cy="68" r="2.75"/><circle cx="610.5" cy="64" r="2.75"/><circle cx="614" cy="67" r="2.75"/><circle cx="619" cy="60.5" r="2.75"/><circle cx="622" cy="68" r="2.75"/><circle cx="620" cy="71" r="2.75"/><circle cx="628" cy="73" r="2.75"/><circle cx="635" cy="73" r="2.75"/><circle cx="639.5" cy="67.5" r="2.75"/><circle cx="642" cy="72" r="2.75"/><circle cx="571" cy="74.5" r="2.75"/><circle cx="575" cy="75" r="2.75"/><circle cx="586" cy="81" r="2.75"/><circle cx="572" cy="82" r="2.75"/><circle cx="576" cy="85" r="2.75"/><circle cx="627" cy="82" r="2.75"/><circle cx="630" cy="86" r="2.75"/><circle cx="635" cy="88" r="2.75"/><circle cx="639" cy="88" r="2.75"/><circle cx="643" cy="89" r="2.75"/><circle cx="629" cy="93" r="2.75"/><circle cx="631" cy="98" r="2.75"/><circle cx="630" cy="102" r="2.75"/><circle cx="632" cy="105" r="2.75"/><circle cx="641" cy="93" r="2.75"/><circle cx="642" cy="97" r="2.75"/><circle cx="639" cy="105" r="2.75"/><circle cx="644" cy="105" r="2.75"/><circle cx="625" cy="76" r="2.75"/><circle cx="616" cy="70" r="2.75"/><circle cx="607" cy="73.5" r="2.75"/><circle cx="596" cy="73" r="2.75"/><circle cx="590" cy="74" r="2.75"/><circle cx="581" cy="76" r="2.75"/><circle cx="579" cy="80" r="2.75"/></g>
<g class="c"><circle cx="579.9" cy="64.9" r="2.75"/><circle cx="582.8" cy="64.7" r="2.75"/><circle cx="584.9" cy="64.6" r="2.75"/><circle cx="587.3" cy="64.5" r="2.75"/><circle cx="589.3" cy="64.7" r="2.75"/><circle cx="592.3" cy="64.3" r="2.75"/><circle cx="595.1" cy="64.6" r="2.75"/><circle cx="597.3" cy="65" r="2.75"/><circle cx="599.9" cy="65" r="2.75"/><circle cx="601.4" cy="64.5" r="2.75"/><circle cx="604.1" cy="65.1" r="2.75"/><circle cx="583.8" cy="66" r="2.75"/><circle cx="592.7" cy="67.3" r="2.75"/><circle cx="600.5" cy="66.7" r="2.75"/><circle cx="603.5" cy="66.7" r="2.75"/><circle cx="605.9" cy="66.5" r="2.75"/><circle cx="607.4" cy="66.5" r="2.75"/><circle cx="610.3" cy="67.2" r="2.75"/><circle cx="611.8" cy="66.8" r="2.75"/><circle cx="615.1" cy="66.7" r="2.75"/><circle cx="601.8" cy="68.4" r="2.75"/><circle cx="604" cy="69.2" r="2.75"/><circle cx="611.6" cy="68.7" r="2.75"/><circle cx="612.9" cy="68" r="2.75"/><circle cx="616.1" cy="68.6" r="2.75"/><circle cx="576.4" cy="70.3" r="2.75"/><circle cx="593.2" cy="70.3" r="2.75"/><circle cx="602.2" cy="71.5" r="2.75"/><circle cx="612.6" cy="70.8" r="2.75"/><circle cx="613.9" cy="71.5" r="2.75"/><circle cx="616.4" cy="70.4" r="2.75"/><circle cx="577.9" cy="72.4" r="2.75"/><circle cx="581.6" cy="73.2" r="2.75"/><circle cx="585.6" cy="72.1" r="2.75"/><circle cx="587" cy="72.7" r="2.75"/><circle cx="589.2" cy="72.7" r="2.75"/><circle cx="591.2" cy="72.8" r="2.75"/><circle cx="593.9" cy="72.2" r="2.75"/><circle cx="596" cy="73.7" r="2.75"/><circle cx="599.5" cy="73.8" r="2.75"/><circle cx="602.1" cy="73.4" r="2.75"/><circle cx="603.4" cy="72.3" r="2.75"/><circle cx="611.6" cy="73" r="2.75"/><circle cx="612.8" cy="72.4" r="2.75"/><circle cx="616.7" cy="73.2" r="2.75"/><circle cx="617.6" cy="72.2" r="2.75"/><circle cx="621.2" cy="72.7" r="2.75"/><circle cx="579.2" cy="74.6" r="2.75"/><circle cx="588.7" cy="74.2" r="2.75"/><circle cx="591" cy="75.4" r="2.75"/><circle cx="593.8" cy="75.1" r="2.75"/><circle cx="595.6" cy="74.4" r="2.75"/><circle cx="597.4" cy="75.8" r="2.75"/><circle cx="599.5" cy="75.8" r="2.75"/><circle cx="602" cy="74.8" r="2.75"/><circle cx="605.3" cy="74.2" r="2.75"/><circle cx="607.4" cy="75.6" r="2.75"/><circle cx="609.7" cy="74.5" r="2.75"/><circle cx="611.5" cy="75.9" r="2.75"/><circle cx="614" cy="75.4" r="2.75"/><circle cx="617.3" cy="74.7" r="2.75"/><circle cx="619.6" cy="75.4" r="2.75"/><circle cx="621.4" cy="74.6" r="2.75"/><circle cx="626.7" cy="75" r="2.75"/><circle cx="576.8" cy="77.7" r="2.75"/><circle cx="579.7" cy="76.8" r="2.75"/><circle cx="589.9" cy="77.6" r="2.75"/><circle cx="592" cy="76.4" r="2.75"/><circle cx="594.9" cy="76.4" r="2.75"/><circle cx="596.8" cy="78" r="2.75"/><circle cx="598.7" cy="77.1" r="2.75"/><circle cx="601.8" cy="77.4" r="2.75"/><circle cx="603.6" cy="77" r="2.75"/><circle cx="607" cy="77.5" r="2.75"/><circle cx="608.1" cy="77.5" r="2.75"/><circle cx="611.7" cy="77.3" r="2.75"/><circle cx="614.2" cy="76.7" r="2.75"/><circle cx="615.5" cy="77.8" r="2.75"/><circle cx="617.9" cy="76.5" r="2.75"/><circle cx="623.7" cy="76.6" r="2.75"/><circle cx="625.9" cy="76.6" r="2.75"/><circle cx="628.1" cy="76.2" r="2.75"/><circle cx="576.5" cy="79.5" r="2.75"/><circle cx="578.8" cy="78.6" r="2.75"/><circle cx="581.7" cy="79.1" r="2.75"/><circle cx="588.2" cy="79.5" r="2.75"/><circle cx="590.2" cy="78.7" r="2.75"/><circle cx="592.6" cy="79.3" r="2.75"/><circle cx="595.1" cy="80" r="2.75"/><circle cx="605.9" cy="78.5" r="2.75"/><circle cx="608" cy="79.9" r="2.75"/><circle cx="609.7" cy="78.9" r="2.75"/><circle cx="611.5" cy="79.9" r="2.75"/><circle cx="614.2" cy="78.3" r="2.75"/><circle cx="616.4" cy="79.2" r="2.75"/><circle cx="627.3" cy="79.9" r="2.75"/><circle cx="572.9" cy="81.8" r="2.75"/><circle cx="575.1" cy="81.1" r="2.75"/><circle cx="577.6" cy="80.7" r="2.75"/><circle cx="587.5" cy="81.3" r="2.75"/><circle cx="589.4" cy="81.8" r="2.75"/><circle cx="592.1" cy="80.4" r="2.75"/><circle cx="594.4" cy="81.6" r="2.75"/><circle cx="604" cy="81" r="2.75"/><circle cx="605.9" cy="80.5" r="2.75"/><circle cx="609.3" cy="80.9" r="2.75"/><circle cx="610.8" cy="80.8" r="2.75"/><circle cx="613.6" cy="81.3" r="2.75"/><circle cx="616.6" cy="80.5" r="2.75"/><circle cx="618" cy="81.9" r="2.75"/><circle cx="626.4" cy="81" r="2.75"/><circle cx="628.3" cy="81" r="2.75"/><circle cx="629.5" cy="82" r="2.75"/><circle cx="569.9" cy="84.1" r="2.75"/><circle cx="571" cy="83.4" r="2.75"/><circle cx="574.6" cy="83" r="2.75"/><circle cx="576" cy="82.5" r="2.75"/><circle cx="578" cy="83.6" r="2.75"/><circle cx="585.7" cy="82.7" r="2.75"/><circle cx="588.3" cy="83.7" r="2.75"/><circle cx="590.1" cy="83.5" r="2.75"/><circle cx="594" cy="83.7" r="2.75"/><circle cx="595.2" cy="83.6" r="2.75"/><circle cx="602.9" cy="83.5" r="2.75"/><circle cx="604.8" cy="84" r="2.75"/><circle cx="607.5" cy="83.9" r="2.75"/><circle cx="610.3" cy="83.1" r="2.75"/><circle cx="612.9" cy="83.1" r="2.75"/><circle cx="614.9" cy="84" r="2.75"/><circle cx="617.9" cy="83.6" r="2.75"/><circle cx="626.6" cy="83.8" r="2.75"/><circle cx="628.5" cy="83.4" r="2.75"/><circle cx="568.5" cy="85" r="2.75"/><circle cx="569.6" cy="84.6" r="2.75"/><circle cx="572.6" cy="85.4" r="2.75"/><circle cx="574.5" cy="85.8" r="2.75"/><circle cx="576.9" cy="86.2" r="2.75"/><circle cx="587.6" cy="85.3" r="2.75"/><circle cx="589.1" cy="84.8" r="2.75"/><circle cx="592.8" cy="85.9" r="2.75"/><circle cx="594.6" cy="84.9" r="2.75"/><circle cx="596.6" cy="85.9" r="2.75"/><circle cx="601.2" cy="86" r="2.75"/><circle cx="603.1" cy="85.7" r="2.75"/><circle cx="606.7" cy="85.5" r="2.75"/><circle cx="608.8" cy="86.2" r="2.75"/><circle cx="610.8" cy="85.9" r="2.75"/><circle cx="613.9" cy="85.9" r="2.75"/><circle cx="615.1" cy="85.8" r="2.75"/><circle cx="618.1" cy="84.8" r="2.75"/><circle cx="621.4" cy="85" r="2.75"/><circle cx="623" cy="85.1" r="2.75"/><circle cx="624.8" cy="85.1" r="2.75"/><circle cx="628.1" cy="85.7" r="2.75"/><circle cx="630.7" cy="84.8" r="2.75"/><circle cx="562.5" cy="88" r="2.75"/><circle cx="564.7" cy="87.9" r="2.75"/><circle cx="566.1" cy="87.7" r="2.75"/><circle cx="568.2" cy="86.7" r="2.75"/><circle cx="571.7" cy="86.6" r="2.75"/><circle cx="573.7" cy="87.3" r="2.75"/><circle cx="577" cy="87.3" r="2.75"/><circle cx="578.2" cy="87.8" r="2.75"/><circle cx="580.5" cy="88.4" r="2.75"/><circle cx="584.3" cy="88.4" r="2.75"/><circle cx="586.1" cy="86.9" r="2.75"/><circle cx="587.8" cy="87.9" r="2.75"/><circle cx="590.6" cy="87.9" r="2.75"/><circle cx="592.6" cy="87.6" r="2.75"/><circle cx="596.1" cy="87.1" r="2.75"/><circle cx="598.5" cy="86.9" r="2.75"/><circle cx="600.6" cy="86.7" r="2.75"/><circle cx="602.2" cy="86.7" r="2.75"/><circle cx="604.6" cy="87.6" r="2.75"/><circle cx="608.1" cy="88.1" r="2.75"/><circle cx="610.6" cy="87.1" r="2.75"/><circle cx="613.1" cy="87.4" r="2.75"/><circle cx="615" cy="87.9" r="2.75"/><circle cx="616.7" cy="87.1" r="2.75"/><circle cx="619.4" cy="87.2" r="2.75"/><circle cx="622.3" cy="88.2" r="2.75"/><circle cx="624.6" cy="86.7" r="2.75"/><circle cx="563.9" cy="90.4" r="2.75"/><circle cx="570.7" cy="90.3" r="2.75"/><circle cx="572.5" cy="90.2" r="2.75"/><circle cx="574.5" cy="89.7" r="2.75"/><circle cx="578.3" cy="90" r="2.75"/><circle cx="580.4" cy="89" r="2.75"/><circle cx="582.1" cy="89.7" r="2.75"/><circle cx="589.8" cy="89.2" r="2.75"/><circle cx="591.2" cy="89.3" r="2.75"/><circle cx="593.7" cy="89.7" r="2.75"/><circle cx="596.7" cy="88.8" r="2.75"/><circle cx="599.9" cy="90.3" r="2.75"/><circle cx="600.9" cy="89.2" r="2.75"/><circle cx="604.7" cy="88.8" r="2.75"/><circle cx="605.7" cy="89.4" r="2.75"/><circle cx="609.3" cy="88.8" r="2.75"/><circle cx="620.9" cy="90.1" r="2.75"/><circle cx="622.4" cy="89.9" r="2.75"/><circle cx="562.7" cy="91.7" r="2.75"/><circle cx="570.8" cy="91.2" r="2.75"/><circle cx="573.6" cy="92.3" r="2.75"/><circle cx="575.9" cy="90.9" r="2.75"/><circle cx="578" cy="92.2" r="2.75"/><circle cx="581.1" cy="92.5" r="2.75"/><circle cx="591.5" cy="91.7" r="2.75"/><circle cx="592.4" cy="92.3" r="2.75"/><circle cx="596.2" cy="91.8" r="2.75"/><circle cx="598" cy="92.2" r="2.75"/><circle cx="600" cy="90.8" r="2.75"/><circle cx="603.5" cy="91.6" r="2.75"/><circle cx="604.8" cy="92.4" r="2.75"/><circle cx="554.2" cy="94.6" r="2.75"/><circle cx="572.5" cy="94.5" r="2.75"/><circle cx="574.6" cy="92.9" r="2.75"/><circle cx="576.7" cy="93.7" r="2.75"/><circle cx="579.5" cy="94" r="2.75"/><circle cx="590.1" cy="93.8" r="2.75"/><circle cx="591.6" cy="93.6" r="2.75"/><circle cx="593.8" cy="94.2" r="2.75"/><circle cx="596.7" cy="93.1" r="2.75"/><circle cx="598.7" cy="93.5" r="2.75"/><circle cx="601.1" cy="93.1" r="2.75"/><circle cx="604" cy="94.1" r="2.75"/><circle cx="605.4" cy="94.1" r="2.75"/><circle cx="608.2" cy="93.8" r="2.75"/><circle cx="627.1" cy="94.4" r="2.75"/><circle cx="631.1" cy="93.5" r="2.75"/><circle cx="554.9" cy="96.2" r="2.75"/><circle cx="561.4" cy="96.3" r="2.75"/><circle cx="572.4" cy="96.4" r="2.75"/><circle cx="580.3" cy="95.5" r="2.75"/><circle cx="583.2" cy="96.3" r="2.75"/><circle cx="585.1" cy="96.2" r="2.75"/><circle cx="590.5" cy="95.4" r="2.75"/><circle cx="593.4" cy="95.4" r="2.75"/><circle cx="595" cy="96.4" r="2.75"/><circle cx="597.7" cy="96.3" r="2.75"/><circle cx="599.6" cy="95.6" r="2.75"/><circle cx="602.1" cy="95.4" r="2.75"/><circle cx="605.1" cy="96.5" r="2.75"/><circle cx="607.5" cy="96.5" r="2.75"/><circle cx="609.6" cy="95" r="2.75"/><circle cx="614.3" cy="96.2" r="2.75"/><circle cx="618" cy="95.9" r="2.75"/><circle cx="628.7" cy="95" r="2.75"/><circle cx="555.5" cy="97.5" r="2.75"/><circle cx="557.6" cy="97.5" r="2.75"/><circle cx="561.1" cy="97.1" r="2.75"/><circle cx="563.1" cy="97.3" r="2.75"/><circle cx="565.5" cy="97.1" r="2.75"/><circle cx="568.2" cy="97.9" r="2.75"/><circle cx="571" cy="97.4" r="2.75"/><circle cx="572.1" cy="98.1" r="2.75"/><circle cx="581.9" cy="97.9" r="2.75"/><circle cx="584.2" cy="98.2" r="2.75"/><circle cx="587" cy="98.7" r="2.75"/><circle cx="589.7" cy="98.3" r="2.75"/><circle cx="591.2" cy="98.8" r="2.75"/><circle cx="594.8" cy="97.5" r="2.75"/><circle cx="597" cy="98.3" r="2.75"/><circle cx="598.8" cy="97.5" r="2.75"/><circle cx="600.7" cy="97.2" r="2.75"/><circle cx="603.6" cy="97.5" r="2.75"/><circle cx="605.8" cy="98.6" r="2.75"/><circle cx="608.2" cy="97.7" r="2.75"/><circle cx="610.4" cy="97.8" r="2.75"/><circle cx="612.7" cy="97.4" r="2.75"/><circle cx="616.5" cy="98.1" r="2.75"/><circle cx="618.5" cy="98" r="2.75"/><circle cx="620.9" cy="97.3" r="2.75"/><circle cx="622.3" cy="98" r="2.75"/><circle cx="628.5" cy="98.1" r="2.75"/><circle cx="630.8" cy="97.5" r="2.75"/><circle cx="554.3" cy="99.3" r="2.75"/><circle cx="557.4" cy="100.8" r="2.75"/><circle cx="559.7" cy="99.5" r="2.75"/><circle cx="561.4" cy="99.5" r="2.75"/><circle cx="564.2" cy="99.8" r="2.75"/><circle cx="566.4" cy="100.2" r="2.75"/><circle cx="569" cy="99.5" r="2.75"/><circle cx="570.8" cy="100.2" r="2.75"/><circle cx="573.3" cy="100.2" r="2.75"/><circle cx="580.5" cy="100.7" r="2.75"/><circle cx="583.2" cy="99.5" r="2.75"/><circle cx="585.9" cy="100.7" r="2.75"/><circle cx="588.4" cy="99.4" r="2.75"/><circle cx="591.5" cy="99.4" r="2.75"/><circle cx="593.6" cy="100.4" r="2.75"/><circle cx="596.3" cy="100.8" r="2.75"/><circle cx="598.2" cy="100.3" r="2.75"/><circle cx="600.9" cy="100.7" r="2.75"/><circle cx="602.4" cy="100.6" r="2.75"/><circle cx="605.2" cy="100.2" r="2.75"/><circle cx="607.3" cy="100.2" r="2.75"/><circle cx="609.8" cy="99.5" r="2.75"/><circle cx="612.5" cy="99.5" r="2.75"/><circle cx="614.6" cy="100.6" r="2.75"/><circle cx="617.5" cy="99.3" r="2.75"/><circle cx="620.3" cy="99.3" r="2.75"/><circle cx="621.4" cy="99.1" r="2.75"/><circle cx="624.9" cy="99.6" r="2.75"/><circle cx="625.9" cy="99.7" r="2.75"/><circle cx="629.3" cy="99.7" r="2.75"/><circle cx="630.6" cy="99.7" r="2.75"/><circle cx="532.5" cy="102.2" r="2.75"/><circle cx="535.1" cy="102.5" r="2.75"/><circle cx="553.2" cy="102.8" r="2.75"/><circle cx="555.6" cy="102.6" r="2.75"/><circle cx="557.8" cy="102.5" r="2.75"/><circle cx="561.5" cy="102" r="2.75"/><circle cx="563.4" cy="102.7" r="2.75"/><circle cx="565" cy="102.3" r="2.75"/><circle cx="567.5" cy="101.3" r="2.75"/><circle cx="569.5" cy="102.2" r="2.75"/><circle cx="572" cy="101.9" r="2.75"/><circle cx="575.4" cy="101.8" r="2.75"/><circle cx="578" cy="101.5" r="2.75"/><circle cx="580.4" cy="102.4" r="2.75"/><circle cx="581.8" cy="102" r="2.75"/><circle cx="583.8" cy="102.3" r="2.75"/><circle cx="586.6" cy="102.9" r="2.75"/><circle cx="588.7" cy="102.3" r="2.75"/><circle cx="591.7" cy="101.9" r="2.75"/><circle cx="594.9" cy="101.9" r="2.75"/><circle cx="597" cy="102.7" r="2.75"/><circle cx="599.7" cy="102.5" r="2.75"/><circle cx="602.4" cy="102.8" r="2.75"/><circle cx="603.8" cy="101.4" r="2.75"/><circle cx="605.6" cy="101.4" r="2.75"/><circle cx="609" cy="102.1" r="2.75"/><circle cx="611.1" cy="101.5" r="2.75"/><circle cx="613.3" cy="101.7" r="2.75"/><circle cx="615.1" cy="102" r="2.75"/><circle cx="617.8" cy="101.8" r="2.75"/><circle cx="620.6" cy="101.9" r="2.75"/><circle cx="628.7" cy="102.8" r="2.75"/><circle cx="629.5" cy="102.5" r="2.75"/><circle cx="525.7" cy="104.4" r="2.75"/><circle cx="528.6" cy="105" r="2.75"/><circle cx="531.1" cy="103.8" r="2.75"/><circle cx="533.2" cy="104.7" r="2.75"/><circle cx="536" cy="103.7" r="2.75"/><circle cx="552.7" cy="105" r="2.75"/><circle cx="555.1" cy="104.8" r="2.75"/><circle cx="557.3" cy="104.1" r="2.75"/><circle cx="559.4" cy="103.3" r="2.75"/><circle cx="562.4" cy="103.5" r="2.75"/><circle cx="565" cy="103.7" r="2.75"/><circle cx="566.6" cy="104.4" r="2.75"/><circle cx="569" cy="104" r="2.75"/><circle cx="572.4" cy="104.7" r="2.75"/><circle cx="573.3" cy="104.4" r="2.75"/><circle cx="576.7" cy="103.8" r="2.75"/><circle cx="578" cy="104.2" r="2.75"/><circle cx="580.9" cy="104" r="2.75"/><circle cx="583.8" cy="103.4" r="2.75"/><circle cx="586.1" cy="104.8" r="2.75"/><circle cx="588.8" cy="104.5" r="2.75"/><circle cx="590.1" cy="103.8" r="2.75"/><circle cx="592.8" cy="105" r="2.75"/><circle cx="596.1" cy="104.3" r="2.75"/><circle cx="597.4" cy="104.5" r="2.75"/><circle cx="601.1" cy="105" r="2.75"/><circle cx="603.4" cy="103.7" r="2.75"/><circle cx="606" cy="104.5" r="2.75"/><circle cx="608" cy="103.5" r="2.75"/><circle cx="610.7" cy="104.9" r="2.75"/><circle cx="612.6" cy="104.5" r="2.75"/><circle cx="614.8" cy="103.9" r="2.75"/><circle cx="617.7" cy="104.6" r="2.75"/><circle cx="619.9" cy="104.3" r="2.75"/><circle cx="524.9" cy="107" r="2.75"/><circle cx="526.5" cy="106.4" r="2.75"/><circle cx="530.4" cy="105.6" r="2.75"/><circle cx="531.5" cy="106.7" r="2.75"/><circle cx="533.9" cy="106.7" r="2.75"/><circle cx="535.8" cy="105.5" r="2.75"/><circle cx="550.6" cy="105.8" r="2.75"/><circle cx="554.3" cy="105.8" r="2.75"/><circle cx="556.5" cy="105.5" r="2.75"/><circle cx="558.6" cy="106.1" r="2.75"/><circle cx="560.5" cy="105.6" r="2.75"/><circle cx="563.4" cy="105.8" r="2.75"/><circle cx="565.3" cy="105.9" r="2.75"/><circle cx="567.9" cy="105.7" r="2.75"/><circle cx="569.7" cy="106.8" r="2.75"/><circle cx="572.9" cy="106.7" r="2.75"/><circle cx="575.5" cy="105.8" r="2.75"/><circle cx="578.3" cy="106.3" r="2.75"/><circle cx="579" cy="106.4" r="2.75"/><circle cx="582.8" cy="105.4" r="2.75"/><circle cx="585" cy="106" r="2.75"/><circle cx="586.5" cy="106.2" r="2.75"/><circle cx="589.9" cy="106.8" r="2.75"/><circle cx="592.7" cy="106.1" r="2.75"/><circle cx="593.6" cy="106.6" r="2.75"/><circle cx="596.5" cy="106.5" r="2.75"/><circle cx="599.2" cy="106.2" r="2.75"/><circle cx="601.7" cy="106.6" r="2.75"/><circle cx="604.7" cy="106.3" r="2.75"/><circle cx="606.1" cy="106.4" r="2.75"/><circle cx="609.6" cy="105.9" r="2.75"/><circle cx="610.2" cy="105.4" r="2.75"/><circle cx="614.1" cy="107.1" r="2.75"/><circle cx="615.8" cy="105.6" r="2.75"/><circle cx="617.9" cy="106.2" r="2.75"/><circle cx="621.2" cy="106.4" r="2.75"/><circle cx="509.4" cy="108.4" r="2.75"/><circle cx="511.1" cy="108.2" r="2.75"/><circle cx="513.6" cy="108.5" r="2.75"/><circle cx="525.1" cy="107.5" r="2.75"/><circle cx="527.6" cy="109" r="2.75"/><circle cx="530.9" cy="108.5" r="2.75"/><circle cx="532.2" cy="108.1" r="2.75"/><circle cx="535.1" cy="108.8" r="2.75"/><circle cx="537.7" cy="107.8" r="2.75"/><circle cx="542" cy="108.6" r="2.75"/><circle cx="549.8" cy="108.6" r="2.75"/><circle cx="552.2" cy="107.4" r="2.75"/><circle cx="554.4" cy="108.6" r="2.75"/><circle cx="556.7" cy="108.6" r="2.75"/><circle cx="560.3" cy="108.2" r="2.75"/><circle cx="562.8" cy="107.4" r="2.75"/><circle cx="563.9" cy="107.5" r="2.75"/><circle cx="567.2" cy="108.1" r="2.75"/><circle cx="568.7" cy="107.8" r="2.75"/><circle cx="571.9" cy="107.4" r="2.75"/><circle cx="574.3" cy="107.6" r="2.75"/><circle cx="577.1" cy="108.5" r="2.75"/><circle cx="578.7" cy="107.5" r="2.75"/><circle cx="580.2" cy="108.1" r="2.75"/><circle cx="583.9" cy="108.6" r="2.75"/><circle cx="586" cy="107.9" r="2.75"/><circle cx="588.8" cy="108.5" r="2.75"/><circle cx="591.2" cy="109" r="2.75"/><circle cx="593.8" cy="107.7" r="2.75"/><circle cx="595.8" cy="108.8" r="2.75"/><circle cx="598.2" cy="108.3" r="2.75"/><circle cx="600.4" cy="107.5" r="2.75"/><circle cx="603" cy="108.8" r="2.75"/><circle cx="605.8" cy="108" r="2.75"/><circle cx="608.2" cy="108.2" r="2.75"/><circle cx="610.5" cy="108.9" r="2.75"/><circle cx="612.2" cy="108.6" r="2.75"/><circle cx="614.8" cy="109" r="2.75"/><circle cx="616.2" cy="107.7" r="2.75"/><circle cx="620.4" cy="108.9" r="2.75"/><circle cx="512.6" cy="111.3" r="2.75"/><circle cx="527.9" cy="109.8" r="2.75"/><circle cx="530.1" cy="110.5" r="2.75"/><circle cx="532" cy="109.6" r="2.75"/><circle cx="537.3" cy="110.4" r="2.75"/><circle cx="539.5" cy="109.9" r="2.75"/><circle cx="542" cy="110.9" r="2.75"/><circle cx="544.6" cy="110.4" r="2.75"/><circle cx="545.7" cy="110.8" r="2.75"/><circle cx="549.3" cy="110.8" r="2.75"/><circle cx="551.5" cy="110.9" r="2.75"/><circle cx="553.7" cy="109.7" r="2.75"/><circle cx="555" cy="110.3" r="2.75"/><circle cx="558.9" cy="110" r="2.75"/><circle cx="560.8" cy="110.1" r="2.75"/><circle cx="563.3" cy="110.1" r="2.75"/><circle cx="565.2" cy="110.4" r="2.75"/><circle cx="567.5" cy="111.2" r="2.75"/><circle cx="571.1" cy="110.2" r="2.75"/><circle cx="572.2" cy="110.8" r="2.75"/><circle cx="575" cy="110.9" r="2.75"/><circle cx="576.6" cy="110.9" r="2.75"/><circle cx="580.1" cy="111" r="2.75"/><circle cx="581.5" cy="109.7" r="2.75"/><circle cx="585.3" cy="110.9" r="2.75"/><circle cx="586.6" cy="110.6" r="2.75"/><circle cx="590.1" cy="110.3" r="2.75"/><circle cx="592.2" cy="109.6" r="2.75"/><circle cx="593.6" cy="111.2" r="2.75"/><circle cx="596.8" cy="109.6" r="2.75"/><circle cx="598.5" cy="109.6" r="2.75"/><circle cx="601.9" cy="109.6" r="2.75"/><circle cx="603.7" cy="110.2" r="2.75"/><circle cx="607.2" cy="110" r="2.75"/><circle cx="608.3" cy="110.4" r="2.75"/><circle cx="611.6" cy="111.2" r="2.75"/><circle cx="613.6" cy="109.6" r="2.75"/><circle cx="616.5" cy="109.6" r="2.75"/><circle cx="618.2" cy="110.1" r="2.75"/><circle cx="512.1" cy="113" r="2.75"/><circle cx="526.6" cy="112.7" r="2.75"/><circle cx="527.8" cy="112" r="2.75"/><circle cx="538.2" cy="112.4" r="2.75"/><circle cx="540.1" cy="113.3" r="2.75"/><circle cx="543.4" cy="111.7" r="2.75"/><circle cx="544.7" cy="111.6" r="2.75"/><circle cx="547.1" cy="111.7" r="2.75"/><circle cx="550.6" cy="112.4" r="2.75"/><circle cx="551.7" cy="112.2" r="2.75"/><circle cx="554.9" cy="112" r="2.75"/><circle cx="556.3" cy="111.8" r="2.75"/><circle cx="559.5" cy="112" r="2.75"/><circle cx="561.7" cy="112.3" r="2.75"/><circle cx="564.9" cy="112" r="2.75"/><circle cx="566.2" cy="112.4" r="2.75"/><circle cx="569.5" cy="112.8" r="2.75"/><circle cx="571.1" cy="113" r="2.75"/><circle cx="573" cy="112.8" r="2.75"/><circle cx="575.8" cy="111.9" r="2.75"/><circle cx="578" cy="113.3" r="2.75"/><circle cx="580.9" cy="113.3" r="2.75"/><circle cx="584.3" cy="112.2" r="2.75"/><circle cx="586.4" cy="111.9" r="2.75"/><circle cx="588.3" cy="113.3" r="2.75"/><circle cx="593.6" cy="111.6" r="2.75"/><circle cx="596.1" cy="111.7" r="2.75"/><circle cx="597.8" cy="112.8" r="2.75"/><circle cx="600.6" cy="112.8" r="2.75"/><circle cx="603.5" cy="112.1" r="2.75"/><circle cx="604.3" cy="112.9" r="2.75"/><circle cx="607.4" cy="113.3" r="2.75"/><circle cx="610" cy="112" r="2.75"/><circle cx="612.7" cy="112.2" r="2.75"/><circle cx="615.4" cy="112" r="2.75"/><circle cx="617.2" cy="111.9" r="2.75"/><circle cx="513.3" cy="115.1" r="2.75"/><circle cx="523.1" cy="115.3" r="2.75"/><circle cx="524.3" cy="114.5" r="2.75"/><circle cx="527.2" cy="114.6" r="2.75"/><circle cx="529.4" cy="113.9" r="2.75"/><circle cx="538.5" cy="114.2" r="2.75"/><circle cx="541" cy="114.7" r="2.75"/><circle cx="543.3" cy="114.5" r="2.75"/><circle cx="546.7" cy="115.1" r="2.75"/><circle cx="548.6" cy="115.3" r="2.75"/><circle cx="550.8" cy="115" r="2.75"/><circle cx="554" cy="115.3" r="2.75"/><circle cx="556" cy="115.1" r="2.75"/><circle cx="558.8" cy="114.1" r="2.75"/><circle cx="561.1" cy="115" r="2.75"/><circle cx="562.9" cy="114.4" r="2.75"/><circle cx="565.4" cy="114.5" r="2.75"/><circle cx="568" cy="115.4" r="2.75"/><circle cx="570.7" cy="115.1" r="2.75"/><circle cx="572.8" cy="115.4" r="2.75"/><circle cx="574.6" cy="114" r="2.75"/><circle cx="578.2" cy="115" r="2.75"/><circle cx="579.1" cy="115" r="2.75"/><circle cx="582.7" cy="114.5" r="2.75"/><circle cx="584.4" cy="114.1" r="2.75"/><circle cx="587.9" cy="113.7" r="2.75"/><circle cx="596.7" cy="114.8" r="2.75"/><circle cx="598.2" cy="115.2" r="2.75"/><circle cx="600.9" cy="114.6" r="2.75"/><circle cx="603.7" cy="114.8" r="2.75"/><circle cx="607.1" cy="114.6" r="2.75"/><circle cx="608.1" cy="114.1" r="2.75"/><circle cx="516.7" cy="116" r="2.75"/><circle cx="521.5" cy="117.1" r="2.75"/><circle cx="523.2" cy="117.3" r="2.75"/><circle cx="525.6" cy="116.8" r="2.75"/><circle cx="527.8" cy="116.9" r="2.75"/><circle cx="531" cy="116.2" r="2.75"/><circle cx="535.1" cy="117.1" r="2.75"/><circle cx="538.8" cy="117.4" r="2.75"/><circle cx="541.2" cy="115.8" r="2.75"/><circle cx="542" cy="116" r="2.75"/><circle cx="544.5" cy="116.8" r="2.75"/><circle cx="548.1" cy="116.6" r="2.75"/><circle cx="550.5" cy="116.6" r="2.75"/><circle cx="551.5" cy="116.6" r="2.75"/><circle cx="555.5" cy="116.3" r="2.75"/><circle cx="557.2" cy="117.2" r="2.75"/><circle cx="560" cy="116.5" r="2.75"/><circle cx="561.4" cy="116.7" r="2.75"/><circle cx="564.1" cy="116.3" r="2.75"/><circle cx="567.2" cy="115.9" r="2.75"/><circle cx="568.7" cy="115.9" r="2.75"/><circle cx="571.6" cy="116.1" r="2.75"/><circle cx="574.2" cy="117.3" r="2.75"/><circle cx="577" cy="117.1" r="2.75"/><circle cx="579.6" cy="116.3" r="2.75"/><circle cx="582" cy="116.4" r="2.75"/><circle cx="582.9" cy="117.4" r="2.75"/><circle cx="585.5" cy="115.9" r="2.75"/><circle cx="588.4" cy="115.7" r="2.75"/><circle cx="516.7" cy="118.5" r="2.75"/><circle cx="519.4" cy="118.3" r="2.75"/><circle cx="522.7" cy="119.3" r="2.75"/><circle cx="524.6" cy="118.2" r="2.75"/><circle cx="527.8" cy="119.3" r="2.75"/><circle cx="530" cy="119.6" r="2.75"/><circle cx="531.4" cy="119.1" r="2.75"/><circle cx="534.3" cy="117.8" r="2.75"/><circle cx="536.1" cy="118.8" r="2.75"/><circle cx="539.8" cy="118.2" r="2.75"/><circle cx="541" cy="119.3" r="2.75"/><circle cx="544.4" cy="117.9" r="2.75"/><circle cx="545.9" cy="118.8" r="2.75"/><circle cx="549.3" cy="118.7" r="2.75"/><circle cx="551.1" cy="118.5" r="2.75"/><circle cx="554" cy="119.4" r="2.75"/><circle cx="555.5" cy="119.5" r="2.75"/><circle cx="558" cy="118.1" r="2.75"/><circle cx="561.4" cy="117.9" r="2.75"/><circle cx="563.4" cy="119.1" r="2.75"/><circle cx="564.6" cy="118" r="2.75"/><circle cx="567.7" cy="118.1" r="2.75"/><circle cx="570.6" cy="119.4" r="2.75"/><circle cx="572.7" cy="118.8" r="2.75"/><circle cx="574.4" cy="118" r="2.75"/><circle cx="577.5" cy="119.3" r="2.75"/><circle cx="579.4" cy="117.9" r="2.75"/><circle cx="582.3" cy="117.9" r="2.75"/><circle cx="585.5" cy="119.1" r="2.75"/><circle cx="586.7" cy="119.4" r="2.75"/><circle cx="518.4" cy="121.2" r="2.75"/><circle cx="521.2" cy="120.9" r="2.75"/><circle cx="523.8" cy="121.1" r="2.75"/><circle cx="525.9" cy="119.9" r="2.75"/><circle cx="527.5" cy="120.6" r="2.75"/><circle cx="530" cy="121.2" r="2.75"/><circle cx="532.9" cy="121.1" r="2.75"/><circle cx="535.7" cy="121.2" r="2.75"/><circle cx="538.1" cy="121.2" r="2.75"/><circle cx="540.6" cy="120.6" r="2.75"/><circle cx="543.1" cy="120.9" r="2.75"/><circle cx="545.2" cy="120.6" r="2.75"/><circle cx="548.3" cy="120.6" r="2.75"/><circle cx="550.8" cy="120.2" r="2.75"/><circle cx="551.4" cy="120.5" r="2.75"/><circle cx="554.3" cy="121.1" r="2.75"/><circle cx="557.5" cy="120.5" r="2.75"/><circle cx="559.3" cy="120.1" r="2.75"/><circle cx="562" cy="121.1" r="2.75"/><circle cx="564.1" cy="121.6" r="2.75"/><circle cx="565.8" cy="121" r="2.75"/><circle cx="569.8" cy="121.6" r="2.75"/><circle cx="571.6" cy="120.3" r="2.75"/><circle cx="573.9" cy="120.4" r="2.75"/><circle cx="575.5" cy="120.4" r="2.75"/><circle cx="579.5" cy="120.2" r="2.75"/><circle cx="581.5" cy="120.3" r="2.75"/><circle cx="583.6" cy="121.1" r="2.75"/><circle cx="522.3" cy="122.3" r="2.75"/><circle cx="524.7" cy="122" r="2.75"/><circle cx="527.7" cy="123.4" r="2.75"/><circle cx="528.7" cy="122.9" r="2.75"/><circle cx="531.9" cy="123.1" r="2.75"/><circle cx="534.1" cy="123.6" r="2.75"/><circle cx="537.3" cy="122.2" r="2.75"/><circle cx="539.3" cy="122.8" r="2.75"/><circle cx="541.2" cy="123.5" r="2.75"/><circle cx="543.9" cy="122.7" r="2.75"/><circle cx="546.1" cy="122.7" r="2.75"/><circle cx="548.2" cy="122.7" r="2.75"/><circle cx="551.9" cy="123" r="2.75"/><circle cx="552.7" cy="122.7" r="2.75"/><circle cx="556.5" cy="122.1" r="2.75"/><circle cx="558.8" cy="122.1" r="2.75"/><circle cx="561" cy="122.1" r="2.75"/><circle cx="563.7" cy="122.7" r="2.75"/><circle cx="566.2" cy="122.9" r="2.75"/><circle cx="568.7" cy="123.7" r="2.75"/><circle cx="571" cy="123.7" r="2.75"/><circle cx="572.9" cy="123.6" r="2.75"/><circle cx="575.6" cy="122.7" r="2.75"/><circle cx="577.6" cy="122.1" r="2.75"/><circle cx="580" cy="122.7" r="2.75"/><circle cx="521.7" cy="125.4" r="2.75"/><circle cx="522.7" cy="125" r="2.75"/><circle cx="526.8" cy="125.5" r="2.75"/><circle cx="528" cy="124.9" r="2.75"/><circle cx="530.8" cy="125.4" r="2.75"/><circle cx="533.5" cy="125.1" r="2.75"/><circle cx="536.4" cy="125.4" r="2.75"/><circle cx="538.7" cy="124.1" r="2.75"/><circle cx="544.2" cy="124.7" r="2.75"/><circle cx="546.9" cy="124.6" r="2.75"/><circle cx="549.3" cy="125.6" r="2.75"/><circle cx="553.2" cy="124" r="2.75"/><circle cx="554.1" cy="124.6" r="2.75"/><circle cx="557.4" cy="125.5" r="2.75"/><circle cx="559.3" cy="125.2" r="2.75"/><circle cx="562.1" cy="124.9" r="2.75"/><circle cx="565.9" cy="124.6" r="2.75"/><circle cx="523.9" cy="126.9" r="2.75"/><circle cx="526.4" cy="126.2" r="2.75"/><circle cx="536.9" cy="127.7" r="2.75"/><circle cx="546.2" cy="127" r="2.75"/><circle cx="549.4" cy="126.4" r="2.75"/><circle cx="551.9" cy="127.8" r="2.75"/><circle cx="552.9" cy="126.2" r="2.75"/><circle cx="555" cy="127.7" r="2.75"/><circle cx="545.4" cy="129.8" r="2.75"/><circle cx="546.9" cy="129.3" r="2.75"/><circle cx="549.6" cy="128.7" r="2.75"/><circle cx="538.3" cy="130.3" r="2.75"/></g>
<path class="f" d="M466 151.5L691 65"/>
<path class="g" d="M521 130.36L632 87.68"/>
</g>
<g id="p3">
<path class="a" d="M78 304V478H381"/>
<path class="a" d="M95.1 478v5.8M146.5 478v5.8M197.9 478v5.8M249.2 478v5.8M300.4 478v5.8M351.6 478v5.8M78 313.5h-5.8M78 352.25h-5.8M78 391h-5.8M78 429.75h-5.8M78 468.5h-5.8"/>
<text class="k" x="95.1" y="498.4">-6</text>
<text class="k" x="146.5" y="498.4">-4</text>
<text class="k" x="197.9" y="498.4">-2</text>
<text class="k" x="249.2" y="498.4">0</text>
<text class="k" x="300.4" y="498.4">2</text>
<text class="k" x="351.6" y="498.4">4</text>
<text class="k" transform="translate(66.2 313.5) rotate(-90)">100</text>
<text class="k" transform="translate(66.2 352.25) rotate(-90)">50</text>
<text class="k" transform="translate(66.2 391) rotate(-90)">0</text>
<text class="k" transform="translate(66.2 429.75) rotate(-90)">-50</text>
<text class="k" transform="translate(66.2 468.5) rotate(-90)">-100</text>
<text class="t" x="229" y="297.75">coefficient = 2.992; standard error = .291</text>
<text class="l" x="229.5" y="516.9">Tariff reduction</text>
<text class="y" transform="translate(49 391.4) rotate(-90)">Trade (% GDP)</text>
<g class="d"><circle cx="87.1" cy="396" r="2.75"/><circle cx="130.9" cy="366.6" r="2.75"/><circle cx="157.3" cy="378.2" r="2.75"/><circle cx="158.2" cy="385" r="2.75"/><circle cx="149.9" cy="387.7" r="2.75"/><circle cx="154" cy="390" r="2.75"/><circle cx="98.1" cy="397.2" r="2.75"/><circle cx="102.6" cy="398" r="2.75"/><circle cx="106" cy="394.5" r="2.75"/><circle cx="103.4" cy="402.1" r="2.75"/><circle cx="98.4" cy="407.4" r="2.75"/><circle cx="98.1" cy="411.6" r="2.75"/><circle cx="115.5" cy="403.1" r="2.75"/><circle cx="115.5" cy="419.7" r="2.75"/><circle cx="123.8" cy="391.1" r="2.75"/><circle cx="123.8" cy="394.5" r="2.75"/><circle cx="123.8" cy="397.5" r="2.75"/><circle cx="129.4" cy="399.1" r="2.75"/><circle cx="143.7" cy="396" r="2.75"/><circle cx="139.9" cy="403.6" r="2.75"/><circle cx="138.9" cy="409.3" r="2.75"/><circle cx="142.2" cy="409.6" r="2.75"/><circle cx="159.7" cy="399.8" r="2.75"/><circle cx="163" cy="395.3" r="2.75"/><circle cx="166.8" cy="394.8" r="2.75"/><circle cx="169.4" cy="406.9" r="2.75"/><circle cx="172.8" cy="390" r="2.75"/><circle cx="176.6" cy="388.5" r="2.75"/><circle cx="182.2" cy="384.7" r="2.75"/><circle cx="190.9" cy="387" r="2.75"/><circle cx="183.8" cy="417.2" r="2.75"/><circle cx="193.5" cy="417.9" r="2.75"/><circle cx="195.5" cy="427.7" r="2.75"/><circle cx="175.1" cy="395.3" r="2.75"/><circle cx="178.1" cy="399.8" r="2.75"/><circle cx="176.6" cy="403.6" r="2.75"/><circle cx="179.6" cy="405.8" r="2.75"/><circle cx="185.7" cy="401.3" r="2.75"/><circle cx="188.7" cy="405.8" r="2.75"/><circle cx="193.2" cy="403.6" r="2.75"/><circle cx="188.7" cy="393.8" r="2.75"/><circle cx="194.7" cy="393.8" r="2.75"/><circle cx="184.2" cy="395.3" r="2.75"/><circle cx="196.2" cy="398.3" r="2.75"/><circle cx="199.2" cy="387.7" r="2.75"/><circle cx="249.5" cy="314" r="2.75"/><circle cx="250.2" cy="349.1" r="2.75"/><circle cx="255.5" cy="351.6" r="2.75"/><circle cx="263.8" cy="350.6" r="2.75"/><circle cx="238.1" cy="356.9" r="2.75"/><circle cx="227.8" cy="365.7" r="2.75"/><circle cx="246.1" cy="363.4" r="2.75"/><circle cx="255.5" cy="359.6" r="2.75"/><circle cx="222.7" cy="372" r="2.75"/><circle cx="211.2" cy="379.2" r="2.75"/><circle cx="243.4" cy="370.2" r="2.75"/><circle cx="247.9" cy="368.7" r="2.75"/><circle cx="270.1" cy="365.4" r="2.75"/><circle cx="276.6" cy="369.9" r="2.75"/><circle cx="295.9" cy="369.9" r="2.75"/><circle cx="289.4" cy="374" r="2.75"/><circle cx="267.2" cy="411.2" r="2.75"/><circle cx="273.9" cy="409.7" r="2.75"/><circle cx="294" cy="409" r="2.75"/><circle cx="182.7" cy="384.8" r="2.75"/><circle cx="190.6" cy="386.8" r="2.75"/><circle cx="201.9" cy="386" r="2.75"/><circle cx="217" cy="390.3" r="2.75"/><circle cx="207.9" cy="393.6" r="2.75"/><circle cx="204.2" cy="402.6" r="2.75"/><circle cx="189.1" cy="404.9" r="2.75"/><circle cx="193.6" cy="404.2" r="2.75"/><circle cx="211.7" cy="405.7" r="2.75"/><circle cx="225.3" cy="409.4" r="2.75"/><circle cx="228.3" cy="410.9" r="2.75"/><circle cx="225.3" cy="416.2" r="2.75"/><circle cx="231.3" cy="417" r="2.75"/><circle cx="237.4" cy="415.5" r="2.75"/><circle cx="249.4" cy="417" r="2.75"/><circle cx="252.5" cy="414" r="2.75"/><circle cx="231.3" cy="376.2" r="2.75"/><circle cx="240.4" cy="377" r="2.75"/><circle cx="223.8" cy="381.5" r="2.75"/><circle cx="334.6" cy="350.6" r="2.75"/><circle cx="332.8" cy="353.1" r="2.75"/><circle cx="310.2" cy="364.2" r="2.75"/><circle cx="312.9" cy="370.6" r="2.75"/><circle cx="335.5" cy="365.7" r="2.75"/><circle cx="331" cy="369" r="2.75"/><circle cx="346.7" cy="372" r="2.75"/><circle cx="372.1" cy="371.7" r="2.75"/><circle cx="358.5" cy="375" r="2.75"/><circle cx="361.1" cy="377" r="2.75"/><circle cx="354.7" cy="380.8" r="2.75"/><circle cx="358.5" cy="381.5" r="2.75"/><circle cx="347.2" cy="380" r="2.75"/><circle cx="349.4" cy="384.8" r="2.75"/><circle cx="347.2" cy="389.8" r="2.75"/><circle cx="360.8" cy="390.6" r="2.75"/><circle cx="363" cy="392.4" r="2.75"/><circle cx="338.9" cy="394.3" r="2.75"/><circle cx="332.4" cy="394.3" r="2.75"/><circle cx="326.8" cy="392.8" r="2.75"/><circle cx="328.3" cy="388.3" r="2.75"/><circle cx="332.8" cy="386.8" r="2.75"/><circle cx="337.4" cy="380.8" r="2.75"/><circle cx="332.8" cy="380" r="2.75"/><circle cx="329.8" cy="381.5" r="2.75"/><circle cx="324.5" cy="376.2" r="2.75"/><circle cx="324.5" cy="380" r="2.75"/><circle cx="293.9" cy="408.7" r="2.75"/><circle cx="308.4" cy="375.8" r="2.75"/><circle cx="295.8" cy="369.7" r="2.75"/><circle cx="289.4" cy="373.5" r="2.75"/><circle cx="300.4" cy="375.5" r="2.75"/><circle cx="282.3" cy="375.5" r="2.75"/><circle cx="316.2" cy="380.8" r="2.75"/><circle cx="320.8" cy="381.5" r="2.75"/><circle cx="311.7" cy="382.3" r="2.75"/><circle cx="316.2" cy="385.3" r="2.75"/><circle cx="314" cy="391.3" r="2.75"/><circle cx="316.2" cy="398.1" r="2.75"/><circle cx="310.2" cy="400.4" r="2.75"/><circle cx="305.7" cy="398.9" r="2.75"/><circle cx="298.9" cy="399.6" r="2.75"/><circle cx="287.5" cy="401.9" r="2.75"/><circle cx="307.2" cy="388.3" r="2.75"/><circle cx="308.7" cy="394.3" r="2.75"/><circle cx="304.2" cy="392.8" r="2.75"/><circle cx="219.4" cy="423.8" r="2.75"/><circle cx="232.3" cy="428" r="2.75"/><circle cx="249.6" cy="426" r="2.75"/><circle cx="242.1" cy="439.6" r="2.75"/><circle cx="249.3" cy="438.9" r="2.75"/><circle cx="224.7" cy="416.7" r="2.75"/><circle cx="230" cy="416.2" r="2.75"/><circle cx="235.3" cy="417.7" r="2.75"/><circle cx="238.3" cy="415.5" r="2.75"/><circle cx="234.5" cy="420.5" r="2.75"/><circle cx="248.1" cy="417.7" r="2.75"/><circle cx="253.4" cy="414" r="2.75"/><circle cx="212.6" cy="406.4" r="2.75"/><circle cx="203.6" cy="402.6" r="2.75"/><circle cx="223.2" cy="409.4" r="2.75"/><circle cx="229.2" cy="410.2" r="2.75"/><circle cx="216.4" cy="390.6" r="2.75"/><circle cx="129.25" cy="399.75" r="2.75"/><circle cx="160" cy="399.75" r="2.75"/><circle cx="315.75" cy="398.5" r="2.75"/><circle cx="211.3" cy="393.6" r="2.75"/><circle cx="209.8" cy="399.6" r="2.75"/><circle cx="212.8" cy="404.2" r="2.75"/><circle cx="210" cy="396.5" r="2.75"/><circle cx="213.5" cy="397" r="2.75"/><circle cx="214" cy="401" r="2.75"/><circle cx="213" cy="392" r="2.75"/><circle cx="256" cy="363.5" r="2.75"/><circle cx="259" cy="366" r="2.75"/><circle cx="254" cy="366" r="2.75"/><circle cx="261" cy="363.5" r="2.75"/><circle cx="257" cy="368" r="2.75"/></g>
<g class="c"><circle cx="260.2" cy="367.1" r="2.75"/><circle cx="258.6" cy="369.4" r="2.75"/><circle cx="261.5" cy="368.7" r="2.75"/><circle cx="255.5" cy="371.3" r="2.75"/><circle cx="257.5" cy="371.8" r="2.75"/><circle cx="260.2" cy="371.8" r="2.75"/><circle cx="262.9" cy="371.5" r="2.75"/><circle cx="264.7" cy="370.8" r="2.75"/><circle cx="253.9" cy="372.7" r="2.75"/><circle cx="255.3" cy="373.7" r="2.75"/><circle cx="259" cy="374.2" r="2.75"/><circle cx="261.3" cy="374.4" r="2.75"/><circle cx="262.8" cy="373.7" r="2.75"/><circle cx="266" cy="372.9" r="2.75"/><circle cx="267.6" cy="373" r="2.75"/><circle cx="270.6" cy="374" r="2.75"/><circle cx="251" cy="374.9" r="2.75"/><circle cx="252.7" cy="374.8" r="2.75"/><circle cx="255.1" cy="375.9" r="2.75"/><circle cx="257" cy="376.1" r="2.75"/><circle cx="259.7" cy="375" r="2.75"/><circle cx="261.6" cy="375.7" r="2.75"/><circle cx="264.4" cy="374.7" r="2.75"/><circle cx="266.7" cy="376.4" r="2.75"/><circle cx="269.4" cy="375.9" r="2.75"/><circle cx="271.7" cy="374.8" r="2.75"/><circle cx="274.4" cy="375" r="2.75"/><circle cx="275.9" cy="375.8" r="2.75"/><circle cx="248.3" cy="377.9" r="2.75"/><circle cx="251.2" cy="377.1" r="2.75"/><circle cx="253.8" cy="377" r="2.75"/><circle cx="256.5" cy="378.5" r="2.75"/><circle cx="258.5" cy="377.5" r="2.75"/><circle cx="260.8" cy="377.4" r="2.75"/><circle cx="263.2" cy="377" r="2.75"/><circle cx="265.4" cy="378" r="2.75"/><circle cx="268.2" cy="376.8" r="2.75"/><circle cx="270" cy="378.2" r="2.75"/><circle cx="272.7" cy="378.2" r="2.75"/><circle cx="275.6" cy="377.9" r="2.75"/><circle cx="277.5" cy="377.8" r="2.75"/><circle cx="280" cy="377.7" r="2.75"/><circle cx="231.3" cy="380.5" r="2.75"/><circle cx="233" cy="379.3" r="2.75"/><circle cx="236" cy="378.9" r="2.75"/><circle cx="237.5" cy="379.8" r="2.75"/><circle cx="247.3" cy="378.9" r="2.75"/><circle cx="250.8" cy="378.8" r="2.75"/><circle cx="252.4" cy="379.1" r="2.75"/><circle cx="254.5" cy="380.2" r="2.75"/><circle cx="258.2" cy="380.5" r="2.75"/><circle cx="259.5" cy="379.8" r="2.75"/><circle cx="262.1" cy="378.9" r="2.75"/><circle cx="264.5" cy="379.9" r="2.75"/><circle cx="266.8" cy="380.2" r="2.75"/><circle cx="269.3" cy="379.3" r="2.75"/><circle cx="272.5" cy="379.8" r="2.75"/><circle cx="273.8" cy="380.4" r="2.75"/><circle cx="276.6" cy="379.9" r="2.75"/><circle cx="278.9" cy="380.4" r="2.75"/><circle cx="281.8" cy="379.6" r="2.75"/><circle cx="283.6" cy="380.2" r="2.75"/><circle cx="289.3" cy="379.8" r="2.75"/><circle cx="296.6" cy="379.8" r="2.75"/><circle cx="297.5" cy="379.2" r="2.75"/><circle cx="300.5" cy="380.3" r="2.75"/><circle cx="229.9" cy="381.4" r="2.75"/><circle cx="240.2" cy="380.9" r="2.75"/><circle cx="241.1" cy="382.5" r="2.75"/><circle cx="246.2" cy="381.4" r="2.75"/><circle cx="249.4" cy="381.9" r="2.75"/><circle cx="251.3" cy="382.1" r="2.75"/><circle cx="253.1" cy="381.6" r="2.75"/><circle cx="256.9" cy="382.5" r="2.75"/><circle cx="258.6" cy="382.3" r="2.75"/><circle cx="261.7" cy="381.8" r="2.75"/><circle cx="262.8" cy="381.1" r="2.75"/><circle cx="266.1" cy="381.5" r="2.75"/><circle cx="268.2" cy="381" r="2.75"/><circle cx="271.4" cy="381.4" r="2.75"/><circle cx="273.2" cy="382" r="2.75"/><circle cx="275.1" cy="381.3" r="2.75"/><circle cx="277.9" cy="381.5" r="2.75"/><circle cx="279.4" cy="381.2" r="2.75"/><circle cx="281.8" cy="382.5" r="2.75"/><circle cx="284.5" cy="382.5" r="2.75"/><circle cx="291.5" cy="382" r="2.75"/><circle cx="295" cy="382.1" r="2.75"/><circle cx="297.7" cy="381.1" r="2.75"/><circle cx="299.7" cy="382.2" r="2.75"/><circle cx="302.6" cy="381.3" r="2.75"/><circle cx="226.1" cy="384.7" r="2.75"/><circle cx="229.2" cy="383.2" r="2.75"/><circle cx="238.3" cy="384" r="2.75"/><circle cx="240.6" cy="384.7" r="2.75"/><circle cx="243" cy="383.6" r="2.75"/><circle cx="244.9" cy="384" r="2.75"/><circle cx="248.2" cy="383.9" r="2.75"/><circle cx="250" cy="383.4" r="2.75"/><circle cx="253.2" cy="384.7" r="2.75"/><circle cx="255.2" cy="384.2" r="2.75"/><circle cx="257.1" cy="383.2" r="2.75"/><circle cx="259" cy="384.1" r="2.75"/><circle cx="263" cy="384.2" r="2.75"/><circle cx="264.9" cy="384.5" r="2.75"/><circle cx="266.8" cy="383.7" r="2.75"/><circle cx="269" cy="384.5" r="2.75"/><circle cx="272.1" cy="383.9" r="2.75"/><circle cx="274.7" cy="384.6" r="2.75"/><circle cx="275.8" cy="383.4" r="2.75"/><circle cx="278.9" cy="384.2" r="2.75"/><circle cx="280.9" cy="383.8" r="2.75"/><circle cx="284.1" cy="383.5" r="2.75"/><circle cx="291.7" cy="383.9" r="2.75"/><circle cx="293.7" cy="384.2" r="2.75"/><circle cx="296.1" cy="383.8" r="2.75"/><circle cx="297.9" cy="383.2" r="2.75"/><circle cx="301.3" cy="384.4" r="2.75"/><circle cx="303.3" cy="384.3" r="2.75"/><circle cx="222.7" cy="386.1" r="2.75"/><circle cx="225.7" cy="386.7" r="2.75"/><circle cx="226.6" cy="386.8" r="2.75"/><circle cx="229.1" cy="386" r="2.75"/><circle cx="232.2" cy="386.8" r="2.75"/><circle cx="237.8" cy="385.9" r="2.75"/><circle cx="239.3" cy="385.8" r="2.75"/><circle cx="241.4" cy="385.1" r="2.75"/><circle cx="244.3" cy="385.4" r="2.75"/><circle cx="246.6" cy="386.8" r="2.75"/><circle cx="249.9" cy="385.6" r="2.75"/><circle cx="251.1" cy="385.3" r="2.75"/><circle cx="254" cy="385.4" r="2.75"/><circle cx="255.5" cy="386.7" r="2.75"/><circle cx="258.7" cy="386.6" r="2.75"/><circle cx="260.5" cy="385.4" r="2.75"/><circle cx="263.5" cy="386.3" r="2.75"/><circle cx="265.2" cy="385.9" r="2.75"/><circle cx="268.3" cy="385.9" r="2.75"/><circle cx="270.3" cy="385.8" r="2.75"/><circle cx="272.3" cy="385.2" r="2.75"/><circle cx="274.6" cy="386.5" r="2.75"/><circle cx="277.3" cy="386.3" r="2.75"/><circle cx="279.5" cy="386.6" r="2.75"/><circle cx="281.8" cy="386.5" r="2.75"/><circle cx="285.1" cy="386.7" r="2.75"/><circle cx="291.4" cy="386.6" r="2.75"/><circle cx="294" cy="386.3" r="2.75"/><circle cx="297.8" cy="386.3" r="2.75"/><circle cx="300.3" cy="386.2" r="2.75"/><circle cx="221.4" cy="388.8" r="2.75"/><circle cx="224.6" cy="387.2" r="2.75"/><circle cx="226.9" cy="387.3" r="2.75"/><circle cx="227.9" cy="387.6" r="2.75"/><circle cx="230.8" cy="388" r="2.75"/><circle cx="234.2" cy="387.4" r="2.75"/><circle cx="236.1" cy="388" r="2.75"/><circle cx="237.5" cy="388.9" r="2.75"/><circle cx="241.3" cy="387.7" r="2.75"/><circle cx="243.7" cy="387.9" r="2.75"/><circle cx="245.7" cy="388.8" r="2.75"/><circle cx="248.1" cy="387.8" r="2.75"/><circle cx="249.4" cy="388" r="2.75"/><circle cx="252.7" cy="387.6" r="2.75"/><circle cx="255.1" cy="387.1" r="2.75"/><circle cx="257" cy="388" r="2.75"/><circle cx="259.8" cy="388.4" r="2.75"/><circle cx="261.7" cy="387.6" r="2.75"/><circle cx="265" cy="387.6" r="2.75"/><circle cx="266.4" cy="388.2" r="2.75"/><circle cx="269.1" cy="388.2" r="2.75"/><circle cx="272.6" cy="388.9" r="2.75"/><circle cx="274.7" cy="388.9" r="2.75"/><circle cx="277.1" cy="387.8" r="2.75"/><circle cx="279.8" cy="387.3" r="2.75"/><circle cx="280.9" cy="388" r="2.75"/><circle cx="283.1" cy="388.2" r="2.75"/><circle cx="286.3" cy="387.5" r="2.75"/><circle cx="289" cy="387.3" r="2.75"/><circle cx="291" cy="387.6" r="2.75"/><circle cx="294.2" cy="387.4" r="2.75"/><circle cx="295.6" cy="388.4" r="2.75"/><circle cx="297.8" cy="388.6" r="2.75"/><circle cx="220.8" cy="389.4" r="2.75"/><circle cx="221.7" cy="391" r="2.75"/><circle cx="225.8" cy="389.7" r="2.75"/><circle cx="227.5" cy="389.3" r="2.75"/><circle cx="229.8" cy="389.5" r="2.75"/><circle cx="232.5" cy="389.5" r="2.75"/><circle cx="234.7" cy="389.8" r="2.75"/><circle cx="237" cy="390.9" r="2.75"/><circle cx="239.4" cy="391" r="2.75"/><circle cx="242.2" cy="389.6" r="2.75"/><circle cx="243.8" cy="390.7" r="2.75"/><circle cx="247.1" cy="389.5" r="2.75"/><circle cx="249.6" cy="389.7" r="2.75"/><circle cx="251.5" cy="390.8" r="2.75"/><circle cx="254.6" cy="389.5" r="2.75"/><circle cx="255.6" cy="389.7" r="2.75"/><circle cx="258.8" cy="390.9" r="2.75"/><circle cx="261.3" cy="390.6" r="2.75"/><circle cx="264" cy="390.1" r="2.75"/><circle cx="265.6" cy="390.6" r="2.75"/><circle cx="268.4" cy="390.8" r="2.75"/><circle cx="271.5" cy="390" r="2.75"/><circle cx="272.7" cy="389.4" r="2.75"/><circle cx="275.6" cy="389.8" r="2.75"/><circle cx="277.5" cy="390.1" r="2.75"/><circle cx="280.6" cy="390.4" r="2.75"/><circle cx="282.5" cy="390.4" r="2.75"/><circle cx="285.2" cy="390.8" r="2.75"/><circle cx="287.7" cy="390.7" r="2.75"/><circle cx="289.3" cy="390.7" r="2.75"/><circle cx="291.3" cy="390.7" r="2.75"/><circle cx="293.7" cy="390.3" r="2.75"/><circle cx="296.6" cy="389.5" r="2.75"/><circle cx="221.2" cy="392.4" r="2.75"/><circle cx="224.1" cy="392.9" r="2.75"/><circle cx="225.9" cy="392.4" r="2.75"/><circle cx="228.9" cy="391.6" r="2.75"/><circle cx="230.8" cy="392.1" r="2.75"/><circle cx="233.6" cy="392.2" r="2.75"/><circle cx="235.1" cy="391.6" r="2.75"/><circle cx="237.9" cy="391.4" r="2.75"/><circle cx="241.1" cy="392.9" r="2.75"/><circle cx="243.4" cy="391.7" r="2.75"/><circle cx="245.6" cy="391.3" r="2.75"/><circle cx="247.3" cy="391.7" r="2.75"/><circle cx="250.4" cy="392.3" r="2.75"/><circle cx="252.7" cy="391.6" r="2.75"/><circle cx="255" cy="392.6" r="2.75"/><circle cx="258.1" cy="391.9" r="2.75"/><circle cx="259.7" cy="392.8" r="2.75"/><circle cx="261.4" cy="392.4" r="2.75"/><circle cx="263.9" cy="392.7" r="2.75"/><circle cx="267.3" cy="391.4" r="2.75"/><circle cx="268.6" cy="393" r="2.75"/><circle cx="271.5" cy="392.3" r="2.75"/><circle cx="274.3" cy="392" r="2.75"/><circle cx="275.9" cy="392.6" r="2.75"/><circle cx="278.7" cy="392" r="2.75"/><circle cx="281.9" cy="393" r="2.75"/><circle cx="283.4" cy="391.9" r="2.75"/><circle cx="286.7" cy="392.1" r="2.75"/><circle cx="289.3" cy="391.9" r="2.75"/><circle cx="290.2" cy="391.8" r="2.75"/><circle cx="294.1" cy="392.3" r="2.75"/><circle cx="296.7" cy="392.8" r="2.75"/><circle cx="217.6" cy="394.3" r="2.75"/><circle cx="220.8" cy="394.6" r="2.75"/><circle cx="222.1" cy="394.7" r="2.75"/><circle cx="225.3" cy="394.4" r="2.75"/><circle cx="227.4" cy="395" r="2.75"/><circle cx="230" cy="393.5" r="2.75"/><circle cx="232.8" cy="394.5" r="2.75"/><circle cx="234.2" cy="394.7" r="2.75"/><circle cx="237.8" cy="394.7" r="2.75"/><circle cx="239.4" cy="394.8" r="2.75"/><circle cx="241" cy="393.4" r="2.75"/><circle cx="244" cy="394.3" r="2.75"/><circle cx="246.9" cy="394.5" r="2.75"/><circle cx="249" cy="394" r="2.75"/><circle cx="251.8" cy="394.4" r="2.75"/><circle cx="253.3" cy="394.4" r="2.75"/><circle cx="256.1" cy="394.8" r="2.75"/><circle cx="259" cy="395.1" r="2.75"/><circle cx="261.5" cy="394.3" r="2.75"/><circle cx="263.7" cy="393.9" r="2.75"/><circle cx="265.9" cy="395.1" r="2.75"/><circle cx="267.5" cy="394.1" r="2.75"/><circle cx="270.5" cy="394.6" r="2.75"/><circle cx="272.4" cy="394.6" r="2.75"/><circle cx="274.7" cy="395.1" r="2.75"/><circle cx="277" cy="394.5" r="2.75"/><circle cx="282.2" cy="394" r="2.75"/><circle cx="285.7" cy="394.2" r="2.75"/><circle cx="287.5" cy="395.1" r="2.75"/><circle cx="289.8" cy="394.8" r="2.75"/><circle cx="292.4" cy="394.8" r="2.75"/><circle cx="294.8" cy="393.6" r="2.75"/><circle cx="296.5" cy="393.9" r="2.75"/><circle cx="298.9" cy="394.4" r="2.75"/><circle cx="301.7" cy="394" r="2.75"/><circle cx="303.3" cy="395.1" r="2.75"/><circle cx="218.4" cy="397.1" r="2.75"/><circle cx="221.7" cy="396.1" r="2.75"/><circle cx="223.1" cy="396.7" r="2.75"/><circle cx="225.7" cy="396" r="2.75"/><circle cx="228.2" cy="396.6" r="2.75"/><circle cx="230.5" cy="395.5" r="2.75"/><circle cx="234" cy="396.4" r="2.75"/><circle cx="235.1" cy="395.5" r="2.75"/><circle cx="238.9" cy="396.4" r="2.75"/><circle cx="240.7" cy="397.1" r="2.75"/><circle cx="242.1" cy="395.6" r="2.75"/><circle cx="244.9" cy="396.7" r="2.75"/><circle cx="247.1" cy="396.4" r="2.75"/><circle cx="250.7" cy="396.2" r="2.75"/><circle cx="252.9" cy="395.5" r="2.75"/><circle cx="255" cy="396.1" r="2.75"/><circle cx="257.7" cy="396.1" r="2.75"/><circle cx="260.1" cy="397.1" r="2.75"/><circle cx="263" cy="396.9" r="2.75"/><circle cx="265" cy="397.2" r="2.75"/><circle cx="266.9" cy="395.5" r="2.75"/><circle cx="269.9" cy="396.1" r="2.75"/><circle cx="271.5" cy="397.1" r="2.75"/><circle cx="274" cy="395.7" r="2.75"/><circle cx="282.9" cy="396" r="2.75"/><circle cx="286" cy="396.6" r="2.75"/><circle cx="289" cy="396.7" r="2.75"/><circle cx="290.4" cy="397" r="2.75"/><circle cx="292.6" cy="396.2" r="2.75"/><circle cx="295" cy="396.8" r="2.75"/><circle cx="298.1" cy="396.2" r="2.75"/><circle cx="301.4" cy="395.9" r="2.75"/><circle cx="217.6" cy="398.3" r="2.75"/><circle cx="219.5" cy="398.5" r="2.75"/><circle cx="223" cy="399.2" r="2.75"/><circle cx="224.9" cy="398.5" r="2.75"/><circle cx="227.7" cy="398.9" r="2.75"/><circle cx="230.1" cy="399.2" r="2.75"/><circle cx="232.8" cy="399.2" r="2.75"/><circle cx="234.5" cy="398.5" r="2.75"/><circle cx="236.4" cy="398.4" r="2.75"/><circle cx="239.4" cy="398.2" r="2.75"/><circle cx="242.6" cy="399.1" r="2.75"/><circle cx="244.8" cy="398" r="2.75"/><circle cx="246.7" cy="399.1" r="2.75"/><circle cx="248.8" cy="398.6" r="2.75"/><circle cx="250.8" cy="399.2" r="2.75"/><circle cx="253.9" cy="398.3" r="2.75"/><circle cx="256.8" cy="398" r="2.75"/><circle cx="258.7" cy="398.2" r="2.75"/><circle cx="261.7" cy="398.4" r="2.75"/><circle cx="264.2" cy="399" r="2.75"/><circle cx="265.1" cy="398.6" r="2.75"/><circle cx="268.2" cy="397.8" r="2.75"/><circle cx="271.3" cy="399" r="2.75"/><circle cx="273.8" cy="398.4" r="2.75"/><circle cx="274.8" cy="398.7" r="2.75"/><circle cx="282.4" cy="399.3" r="2.75"/><circle cx="285.4" cy="399.3" r="2.75"/><circle cx="287.9" cy="399" r="2.75"/><circle cx="289.3" cy="398.9" r="2.75"/><circle cx="291.5" cy="398.9" r="2.75"/><circle cx="294.9" cy="398.2" r="2.75"/><circle cx="217.2" cy="400.3" r="2.75"/><circle cx="219.8" cy="400.1" r="2.75"/><circle cx="221.1" cy="400.1" r="2.75"/><circle cx="224.3" cy="399.8" r="2.75"/><circle cx="225.6" cy="401" r="2.75"/><circle cx="229" cy="399.9" r="2.75"/><circle cx="230.9" cy="399.7" r="2.75"/><circle cx="234" cy="401.2" r="2.75"/><circle cx="235" cy="401" r="2.75"/><circle cx="237.7" cy="401.4" r="2.75"/><circle cx="240" cy="401.3" r="2.75"/><circle cx="242.6" cy="400.6" r="2.75"/><circle cx="245.5" cy="401" r="2.75"/><circle cx="247.5" cy="401" r="2.75"/><circle cx="250.7" cy="400.8" r="2.75"/><circle cx="251.8" cy="400.4" r="2.75"/><circle cx="254.5" cy="401.4" r="2.75"/><circle cx="257.3" cy="401.2" r="2.75"/><circle cx="259.7" cy="400.1" r="2.75"/><circle cx="274.7" cy="399.8" r="2.75"/><circle cx="284.4" cy="400.2" r="2.75"/><circle cx="286" cy="400" r="2.75"/><circle cx="218.2" cy="402.3" r="2.75"/><circle cx="220.8" cy="402.1" r="2.75"/><circle cx="222.4" cy="403.1" r="2.75"/><circle cx="225.7" cy="403.1" r="2.75"/><circle cx="227.7" cy="402.6" r="2.75"/><circle cx="229.7" cy="403.3" r="2.75"/><circle cx="231.9" cy="402.4" r="2.75"/><circle cx="234.9" cy="402.6" r="2.75"/><circle cx="237.7" cy="402.3" r="2.75"/><circle cx="240" cy="403" r="2.75"/><circle cx="241.1" cy="403.3" r="2.75"/><circle cx="244.6" cy="403.3" r="2.75"/><circle cx="246.6" cy="403.3" r="2.75"/><circle cx="249.1" cy="403.3" r="2.75"/><circle cx="251.9" cy="402" r="2.75"/><circle cx="254.5" cy="402" r="2.75"/><circle cx="256.2" cy="402.3" r="2.75"/><circle cx="224.1" cy="404.1" r="2.75"/><circle cx="226.1" cy="403.8" r="2.75"/><circle cx="233.6" cy="405.1" r="2.75"/><circle cx="236.1" cy="404.5" r="2.75"/><circle cx="238.6" cy="404.1" r="2.75"/><circle cx="241.4" cy="404.9" r="2.75"/><circle cx="242.9" cy="405" r="2.75"/><circle cx="245.3" cy="404.3" r="2.75"/><circle cx="248" cy="405.5" r="2.75"/><circle cx="250.4" cy="405.3" r="2.75"/><circle cx="252.4" cy="405.5" r="2.75"/><circle cx="234.8" cy="406.1" r="2.75"/><circle cx="237.6" cy="407.3" r="2.75"/><circle cx="239.7" cy="405.9" r="2.75"/><circle cx="241.5" cy="406.1" r="2.75"/><circle cx="245.1" cy="405.9" r="2.75"/><circle cx="247.1" cy="407.5" r="2.75"/><circle cx="249.8" cy="406.2" r="2.75"/><circle cx="252.1" cy="406" r="2.75"/><circle cx="239.1" cy="409.5" r="2.75"/><circle cx="241" cy="408.7" r="2.75"/><circle cx="243.4" cy="408.3" r="2.75"/><circle cx="247.5" cy="408" r="2.75"/><circle cx="249.4" cy="408" r="2.75"/><circle cx="248.5" cy="410.2" r="2.75"/><circle cx="251.7" cy="410.6" r="2.75"/><circle cx="249.8" cy="413.2" r="2.75"/><circle cx="251.8" cy="413.4" r="2.75"/><circle cx="249.7" cy="414.3" r="2.75"/><circle cx="186.1" cy="389.4" r="2.75"/><circle cx="188.5" cy="390.7" r="2.75"/><circle cx="195.7" cy="390" r="2.75"/><circle cx="179.9" cy="391.6" r="2.75"/><circle cx="182.9" cy="391.5" r="2.75"/><circle cx="186.3" cy="393.3" r="2.75"/><circle cx="190.1" cy="392.6" r="2.75"/><circle cx="193.6" cy="392.5" r="2.75"/><circle cx="197.5" cy="391.5" r="2.75"/><circle cx="200.7" cy="391.9" r="2.75"/><circle cx="205.5" cy="394.1" r="2.75"/><circle cx="206.7" cy="391.7" r="2.75"/><circle cx="178.7" cy="395.6" r="2.75"/><circle cx="180.5" cy="396.1" r="2.75"/><circle cx="185.9" cy="395.1" r="2.75"/><circle cx="187.6" cy="394.9" r="2.75"/><circle cx="192.2" cy="395.8" r="2.75"/><circle cx="194.7" cy="395.5" r="2.75"/><circle cx="197.6" cy="395.3" r="2.75"/><circle cx="204" cy="396.1" r="2.75"/><circle cx="205.5" cy="397.2" r="2.75"/><circle cx="209.4" cy="395.1" r="2.75"/><circle cx="176.7" cy="398.3" r="2.75"/><circle cx="178.4" cy="399.3" r="2.75"/><circle cx="184.1" cy="398.3" r="2.75"/><circle cx="187.2" cy="398.6" r="2.75"/><circle cx="190.2" cy="399.3" r="2.75"/><circle cx="194.9" cy="399.7" r="2.75"/><circle cx="197.2" cy="400" r="2.75"/><circle cx="200.4" cy="398.6" r="2.75"/><circle cx="205.8" cy="399.1" r="2.75"/><circle cx="208.8" cy="398.4" r="2.75"/><circle cx="177.3" cy="401.6" r="2.75"/><circle cx="180.3" cy="400.9" r="2.75"/><circle cx="183.7" cy="402.7" r="2.75"/><circle cx="187.1" cy="401.4" r="2.75"/><circle cx="191.6" cy="402.2" r="2.75"/><circle cx="195" cy="402.9" r="2.75"/><circle cx="198.3" cy="401.7" r="2.75"/><circle cx="202.4" cy="401" r="2.75"/><circle cx="205.4" cy="401" r="2.75"/></g>
<path class="f" d="M86.8 405.5L372.4 380"/>
<path class="g" d="M176 397.54L310 385.57"/>
</g>
<g id="p4">
<path class="a" d="M455.6 304V478H759"/>
<path class="a" d="M481.25 478v5.8M570.75 478v5.8M660 478v5.8M749.25 478v5.8M455.6 327.25h-5.8M455.6 362.25h-5.8M455.6 397.5h-5.8M455.6 433h-5.8M455.6 468.5h-5.8"/>
<text class="k" x="481.25" y="498.4">-5</text>
<text class="k" x="570.75" y="498.4">0</text>
<text class="k" x="660" y="498.4">5</text>
<text class="k" x="749.25" y="498.4">10</text>
<text class="k" transform="translate(444.2 327.25) rotate(-90)">100</text>
<text class="k" transform="translate(444.2 362.25) rotate(-90)">50</text>
<text class="k" transform="translate(444.2 397.5) rotate(-90)">0</text>
<text class="k" transform="translate(444.2 433) rotate(-90)">-50</text>
<text class="k" transform="translate(444.2 468.5) rotate(-90)">-100</text>
<text class="t" x="607" y="297.75">coefficient = 1.287; standard error = .266</text>
<text class="l" x="607.3" y="516.9">Capital account liberalization</text>
<text class="y" transform="translate(428 391.4) rotate(-90)">FDI (% GDP)</text>
<g class="d"><circle cx="524.9" cy="364.1" r="2.75"/><circle cx="464.8" cy="417.8" r="2.75"/><circle cx="468.9" cy="404.1" r="2.75"/><circle cx="481.4" cy="404.8" r="2.75"/><circle cx="485.9" cy="409.1" r="2.75"/><circle cx="493.9" cy="400.3" r="2.75"/><circle cx="493.5" cy="419.6" r="2.75"/><circle cx="496.5" cy="413.6" r="2.75"/><circle cx="498.8" cy="414.3" r="2.75"/><circle cx="501.8" cy="400" r="2.75"/><circle cx="498.8" cy="403.8" r="2.75"/><circle cx="497.3" cy="408.3" r="2.75"/><circle cx="506.3" cy="410.6" r="2.75"/><circle cx="509.3" cy="397" r="2.75"/><circle cx="516.9" cy="386.4" r="2.75"/><circle cx="521" cy="389.7" r="2.75"/><circle cx="525.2" cy="384.9" r="2.75"/><circle cx="535.3" cy="382.6" r="2.75"/><circle cx="543.3" cy="379.6" r="2.75"/><circle cx="548.6" cy="376.6" r="2.75"/><circle cx="550.1" cy="373.6" r="2.75"/><circle cx="551.6" cy="370.6" r="2.75"/><circle cx="558.1" cy="368.8" r="2.75"/><circle cx="568.2" cy="367.2" r="2.75"/><circle cx="570.9" cy="369.8" r="2.75"/><circle cx="560.7" cy="375.8" r="2.75"/><circle cx="565.9" cy="377.4" r="2.75"/><circle cx="557.6" cy="378.1" r="2.75"/><circle cx="551.6" cy="383.4" r="2.75"/><circle cx="513.9" cy="413.6" r="2.75"/><circle cx="518.4" cy="412.8" r="2.75"/><circle cx="530.5" cy="415.8" r="2.75"/><circle cx="535" cy="419.6" r="2.75"/><circle cx="540.3" cy="410.6" r="2.75"/><circle cx="540.3" cy="415.1" r="2.75"/><circle cx="547.5" cy="415.5" r="2.75"/><circle cx="557.2" cy="412.8" r="2.75"/><circle cx="563.7" cy="413.6" r="2.75"/><circle cx="563.4" cy="419.6" r="2.75"/><circle cx="562.9" cy="424.9" r="2.75"/><circle cx="570.5" cy="410.6" r="2.75"/><circle cx="529" cy="389.4" r="2.75"/><circle cx="533.5" cy="391.7" r="2.75"/><circle cx="538" cy="394" r="2.75"/><circle cx="523.5" cy="313.25" r="2.75"/><circle cx="556.9" cy="321.9" r="2.75"/><circle cx="518" cy="339" r="2.75"/><circle cx="532" cy="344.5" r="2.75"/><circle cx="553.6" cy="341.1" r="2.75"/><circle cx="598.6" cy="345" r="2.75"/><circle cx="517" cy="386.5" r="2.75"/><circle cx="523.75" cy="385.75" r="2.75"/><circle cx="592.8" cy="367.2" r="2.75"/><circle cx="593.6" cy="373.2" r="2.75"/><circle cx="613.2" cy="375.5" r="2.75"/><circle cx="578.9" cy="375.5" r="2.75"/><circle cx="560.4" cy="375.5" r="2.75"/><circle cx="565.7" cy="377" r="2.75"/><circle cx="615.8" cy="379.6" r="2.75"/><circle cx="624.9" cy="383.4" r="2.75"/><circle cx="637" cy="412.1" r="2.75"/><circle cx="608" cy="409.8" r="2.75"/><circle cx="583.8" cy="419.2" r="2.75"/><circle cx="578.1" cy="411.3" r="2.75"/><circle cx="584.9" cy="412.1" r="2.75"/><circle cx="591.7" cy="412.1" r="2.75"/><circle cx="638.5" cy="387.9" r="2.75"/><circle cx="645.3" cy="387.2" r="2.75"/><circle cx="649.1" cy="390.2" r="2.75"/><circle cx="652.1" cy="397.7" r="2.75"/><circle cx="657.4" cy="396.2" r="2.75"/><circle cx="666.9" cy="395.9" r="2.75"/><circle cx="677" cy="397.3" r="2.75"/><circle cx="686.4" cy="399.2" r="2.75"/><circle cx="632.5" cy="387.2" r="2.75"/><circle cx="602.6" cy="406.4" r="2.75"/><circle cx="597.8" cy="422.7" r="2.75"/><circle cx="597.4" cy="426.8" r="2.75"/><circle cx="596.6" cy="431.3" r="2.75"/><circle cx="595.8" cy="435.8" r="2.75"/><circle cx="595.8" cy="440.4" r="2.75"/><circle cx="595.8" cy="444.9" r="2.75"/><circle cx="595.8" cy="448.7" r="2.75"/><circle cx="560" cy="449.75" r="2.75"/><circle cx="513.75" cy="413.75" r="2.75"/><circle cx="517.5" cy="412.5" r="2.75"/><circle cx="506.25" cy="410.6" r="2.75"/><circle cx="498.75" cy="413.75" r="2.75"/><circle cx="496.9" cy="408.75" r="2.75"/><circle cx="531.25" cy="416.25" r="2.75"/><circle cx="531.25" cy="412.5" r="2.75"/><circle cx="540" cy="413.75" r="2.75"/><circle cx="547.5" cy="416.25" r="2.75"/><circle cx="557.5" cy="413.1" r="2.75"/><circle cx="566.25" cy="415" r="2.75"/><circle cx="523.75" cy="410" r="2.75"/><circle cx="570" cy="411.25" r="2.75"/><circle cx="516.9" cy="385.6" r="2.75"/><circle cx="520.6" cy="390" r="2.75"/><circle cx="525" cy="385" r="2.75"/><circle cx="528.75" cy="388.75" r="2.75"/><circle cx="532.5" cy="391.25" r="2.75"/><circle cx="537.5" cy="393.75" r="2.75"/><circle cx="485.6" cy="409.4" r="2.75"/><circle cx="481.9" cy="405" r="2.75"/><circle cx="493.75" cy="419.4" r="2.75"/><circle cx="578.75" cy="381" r="2.75"/><circle cx="561.5" cy="376" r="2.75"/><circle cx="566" cy="378" r="2.75"/><circle cx="597.5" cy="424" r="2.75"/><circle cx="597" cy="429" r="2.75"/><circle cx="596.5" cy="433.5" r="2.75"/><circle cx="596.2" cy="438" r="2.75"/><circle cx="596" cy="443" r="2.75"/><circle cx="596" cy="447" r="2.75"/></g>
<g class="c"><circle cx="587.4" cy="380.4" r="2.75"/><circle cx="588.5" cy="380.4" r="2.75"/><circle cx="596.5" cy="380.5" r="2.75"/><circle cx="578.9" cy="382.3" r="2.75"/><circle cx="580.8" cy="381.5" r="2.75"/><circle cx="582.2" cy="382.4" r="2.75"/><circle cx="585.3" cy="381" r="2.75"/><circle cx="588" cy="380.8" r="2.75"/><circle cx="590" cy="381.8" r="2.75"/><circle cx="593.1" cy="381.4" r="2.75"/><circle cx="594.5" cy="381.4" r="2.75"/><circle cx="598" cy="380.9" r="2.75"/><circle cx="599.2" cy="381.4" r="2.75"/><circle cx="603" cy="382.3" r="2.75"/><circle cx="555.7" cy="384.3" r="2.75"/><circle cx="557.6" cy="383" r="2.75"/><circle cx="559.8" cy="384.5" r="2.75"/><circle cx="562.1" cy="383.1" r="2.75"/><circle cx="564.2" cy="384.6" r="2.75"/><circle cx="572.6" cy="384.1" r="2.75"/><circle cx="574.5" cy="384.1" r="2.75"/><circle cx="576.1" cy="384.3" r="2.75"/><circle cx="579.7" cy="384.2" r="2.75"/><circle cx="581.2" cy="384.5" r="2.75"/><circle cx="585.1" cy="383.7" r="2.75"/><circle cx="586.3" cy="383.8" r="2.75"/><circle cx="589.4" cy="383.7" r="2.75"/><circle cx="591.5" cy="384.6" r="2.75"/><circle cx="594.2" cy="383.5" r="2.75"/><circle cx="596.9" cy="384.3" r="2.75"/><circle cx="597.7" cy="383.7" r="2.75"/><circle cx="600.6" cy="383.4" r="2.75"/><circle cx="603.2" cy="384.3" r="2.75"/><circle cx="606" cy="383.3" r="2.75"/><circle cx="607.4" cy="383.1" r="2.75"/><circle cx="554.8" cy="385.3" r="2.75"/><circle cx="556.2" cy="386" r="2.75"/><circle cx="558.4" cy="386.1" r="2.75"/><circle cx="562.2" cy="385.5" r="2.75"/><circle cx="563.2" cy="386.5" r="2.75"/><circle cx="565.4" cy="386.4" r="2.75"/><circle cx="568.5" cy="386.4" r="2.75"/><circle cx="570.8" cy="386.6" r="2.75"/><circle cx="573.7" cy="386" r="2.75"/><circle cx="575" cy="386" r="2.75"/><circle cx="577.7" cy="386.2" r="2.75"/><circle cx="580.3" cy="385.3" r="2.75"/><circle cx="582.4" cy="385.4" r="2.75"/><circle cx="584.7" cy="385.4" r="2.75"/><circle cx="587.9" cy="386.5" r="2.75"/><circle cx="590.7" cy="385.6" r="2.75"/><circle cx="593.4" cy="385.5" r="2.75"/><circle cx="594.9" cy="385.9" r="2.75"/><circle cx="597.6" cy="385.8" r="2.75"/><circle cx="600.1" cy="385.3" r="2.75"/><circle cx="601.7" cy="385.5" r="2.75"/><circle cx="604.5" cy="385.4" r="2.75"/><circle cx="607.1" cy="385" r="2.75"/><circle cx="609.3" cy="385.7" r="2.75"/><circle cx="551.3" cy="387.1" r="2.75"/><circle cx="552.2" cy="388.1" r="2.75"/><circle cx="555.8" cy="388.1" r="2.75"/><circle cx="557" cy="388.7" r="2.75"/><circle cx="561" cy="388.6" r="2.75"/><circle cx="563" cy="387" r="2.75"/><circle cx="564.9" cy="387.3" r="2.75"/><circle cx="566.9" cy="387.9" r="2.75"/><circle cx="570.4" cy="388.2" r="2.75"/><circle cx="573.1" cy="387.6" r="2.75"/><circle cx="573.9" cy="388.4" r="2.75"/><circle cx="577.7" cy="387.9" r="2.75"/><circle cx="578.9" cy="388.1" r="2.75"/><circle cx="581.4" cy="387.7" r="2.75"/><circle cx="584.4" cy="388.3" r="2.75"/><circle cx="587" cy="387.2" r="2.75"/><circle cx="588.8" cy="387.9" r="2.75"/><circle cx="591.1" cy="387.1" r="2.75"/><circle cx="593.4" cy="387.8" r="2.75"/><circle cx="596.4" cy="388.8" r="2.75"/><circle cx="598.1" cy="388" r="2.75"/><circle cx="600.5" cy="387.2" r="2.75"/><circle cx="603" cy="387.8" r="2.75"/><circle cx="606.4" cy="387.6" r="2.75"/><circle cx="609" cy="388.4" r="2.75"/><circle cx="610.4" cy="388.6" r="2.75"/><circle cx="619.3" cy="388.2" r="2.75"/><circle cx="623.4" cy="387.9" r="2.75"/><circle cx="552" cy="390.5" r="2.75"/><circle cx="554.7" cy="390.8" r="2.75"/><circle cx="557.1" cy="390.5" r="2.75"/><circle cx="558.9" cy="389.5" r="2.75"/><circle cx="561.2" cy="390" r="2.75"/><circle cx="563.8" cy="390" r="2.75"/><circle cx="565.3" cy="390.8" r="2.75"/><circle cx="568.4" cy="389.7" r="2.75"/><circle cx="571.6" cy="389.8" r="2.75"/><circle cx="573.9" cy="389.3" r="2.75"/><circle cx="575.9" cy="389.2" r="2.75"/><circle cx="578.2" cy="390.5" r="2.75"/><circle cx="580.2" cy="390.2" r="2.75"/><circle cx="583.4" cy="389.8" r="2.75"/><circle cx="584.8" cy="390.3" r="2.75"/><circle cx="588.5" cy="390.8" r="2.75"/><circle cx="591.1" cy="390.6" r="2.75"/><circle cx="592.3" cy="390.4" r="2.75"/><circle cx="595.5" cy="389.9" r="2.75"/><circle cx="598.1" cy="389.3" r="2.75"/><circle cx="600.2" cy="390.3" r="2.75"/><circle cx="601.7" cy="389.3" r="2.75"/><circle cx="604.9" cy="389.2" r="2.75"/><circle cx="606.7" cy="390.7" r="2.75"/><circle cx="609.8" cy="389.8" r="2.75"/><circle cx="611.7" cy="389.6" r="2.75"/><circle cx="614.6" cy="390.1" r="2.75"/><circle cx="616.8" cy="389.5" r="2.75"/><circle cx="619.8" cy="389.5" r="2.75"/><circle cx="621.8" cy="390.8" r="2.75"/><circle cx="624.5" cy="389.2" r="2.75"/><circle cx="626.3" cy="390.4" r="2.75"/><circle cx="628.5" cy="389.6" r="2.75"/><circle cx="549.1" cy="392.8" r="2.75"/><circle cx="550.1" cy="392" r="2.75"/><circle cx="552.3" cy="391.4" r="2.75"/><circle cx="555.5" cy="391.2" r="2.75"/><circle cx="558.3" cy="392.4" r="2.75"/><circle cx="561.1" cy="392.5" r="2.75"/><circle cx="563.2" cy="391.7" r="2.75"/><circle cx="565.9" cy="391.6" r="2.75"/><circle cx="568.1" cy="392.8" r="2.75"/><circle cx="570.3" cy="392.6" r="2.75"/><circle cx="571.7" cy="392.6" r="2.75"/><circle cx="574.1" cy="391.5" r="2.75"/><circle cx="576.3" cy="392.6" r="2.75"/><circle cx="579.9" cy="391.9" r="2.75"/><circle cx="581" cy="391.4" r="2.75"/><circle cx="584.8" cy="392.3" r="2.75"/><circle cx="586.2" cy="392.8" r="2.75"/><circle cx="589.1" cy="391.2" r="2.75"/><circle cx="592.3" cy="391.8" r="2.75"/><circle cx="593.7" cy="392.8" r="2.75"/><circle cx="597" cy="391.6" r="2.75"/><circle cx="599.3" cy="391.6" r="2.75"/><circle cx="600.1" cy="391.3" r="2.75"/><circle cx="602.8" cy="392.2" r="2.75"/><circle cx="605.4" cy="392.7" r="2.75"/><circle cx="608" cy="391.3" r="2.75"/><circle cx="610.6" cy="391.3" r="2.75"/><circle cx="612.1" cy="392.8" r="2.75"/><circle cx="614.7" cy="391.4" r="2.75"/><circle cx="617.4" cy="391.4" r="2.75"/><circle cx="620.1" cy="392.4" r="2.75"/><circle cx="622.4" cy="392.1" r="2.75"/><circle cx="624.2" cy="391.4" r="2.75"/><circle cx="627" cy="392.3" r="2.75"/><circle cx="630.2" cy="392.9" r="2.75"/><circle cx="632.1" cy="391.5" r="2.75"/><circle cx="549" cy="394.5" r="2.75"/><circle cx="551.4" cy="394.2" r="2.75"/><circle cx="554.7" cy="394.2" r="2.75"/><circle cx="556.8" cy="393.6" r="2.75"/><circle cx="559.1" cy="394.4" r="2.75"/><circle cx="561.7" cy="393.6" r="2.75"/><circle cx="563.9" cy="394.2" r="2.75"/><circle cx="566.3" cy="393.6" r="2.75"/><circle cx="569.2" cy="394.3" r="2.75"/><circle cx="570.6" cy="395" r="2.75"/><circle cx="573.6" cy="393.8" r="2.75"/><circle cx="575.6" cy="393.9" r="2.75"/><circle cx="577.7" cy="393.5" r="2.75"/><circle cx="579.9" cy="393.4" r="2.75"/><circle cx="583.3" cy="393.9" r="2.75"/><circle cx="585.2" cy="393.9" r="2.75"/><circle cx="588.6" cy="394.9" r="2.75"/><circle cx="589.8" cy="394.5" r="2.75"/><circle cx="593.4" cy="394.8" r="2.75"/><circle cx="595" cy="394.7" r="2.75"/><circle cx="596.9" cy="394.5" r="2.75"/><circle cx="599.4" cy="394.5" r="2.75"/><circle cx="601.9" cy="394.8" r="2.75"/><circle cx="603.9" cy="393.8" r="2.75"/><circle cx="606.5" cy="394.1" r="2.75"/><circle cx="608.6" cy="393.5" r="2.75"/><circle cx="611.3" cy="393.3" r="2.75"/><circle cx="614.6" cy="394.7" r="2.75"/><circle cx="617.4" cy="394" r="2.75"/><circle cx="618.7" cy="394.3" r="2.75"/><circle cx="621.1" cy="393.2" r="2.75"/><circle cx="623.6" cy="394.6" r="2.75"/><circle cx="625.8" cy="393.7" r="2.75"/><circle cx="628.3" cy="394.7" r="2.75"/><circle cx="630.7" cy="393.8" r="2.75"/><circle cx="632.9" cy="393.5" r="2.75"/><circle cx="640.3" cy="394.4" r="2.75"/><circle cx="520.1" cy="396.6" r="2.75"/><circle cx="522" cy="396.7" r="2.75"/><circle cx="524.3" cy="397.1" r="2.75"/><circle cx="526.2" cy="395.4" r="2.75"/><circle cx="529.5" cy="396.3" r="2.75"/><circle cx="550.9" cy="395.6" r="2.75"/><circle cx="553" cy="395.9" r="2.75"/><circle cx="555.1" cy="395.4" r="2.75"/><circle cx="558.6" cy="396.1" r="2.75"/><circle cx="559.5" cy="395.7" r="2.75"/><circle cx="562.3" cy="397.1" r="2.75"/><circle cx="565.1" cy="396" r="2.75"/><circle cx="568" cy="395.3" r="2.75"/><circle cx="570.1" cy="395.4" r="2.75"/><circle cx="572.3" cy="396.5" r="2.75"/><circle cx="575" cy="396.4" r="2.75"/><circle cx="576.9" cy="397.1" r="2.75"/><circle cx="580" cy="395.4" r="2.75"/><circle cx="580.9" cy="395.5" r="2.75"/><circle cx="584" cy="395.6" r="2.75"/><circle cx="586.2" cy="395.4" r="2.75"/><circle cx="588.6" cy="395.7" r="2.75"/><circle cx="590.8" cy="396.9" r="2.75"/><circle cx="594.2" cy="396.9" r="2.75"/><circle cx="596" cy="395.6" r="2.75"/><circle cx="598" cy="396.5" r="2.75"/><circle cx="600.5" cy="395.5" r="2.75"/><circle cx="603.2" cy="396" r="2.75"/><circle cx="605.4" cy="396.1" r="2.75"/><circle cx="608.7" cy="396.5" r="2.75"/><circle cx="610.2" cy="396" r="2.75"/><circle cx="613.8" cy="397.1" r="2.75"/><circle cx="615.1" cy="395.8" r="2.75"/><circle cx="617.3" cy="396" r="2.75"/><circle cx="620.9" cy="395.5" r="2.75"/><circle cx="622.7" cy="396.6" r="2.75"/><circle cx="624.2" cy="396.6" r="2.75"/><circle cx="626.7" cy="395.8" r="2.75"/><circle cx="629.7" cy="395.9" r="2.75"/><circle cx="631.8" cy="395.6" r="2.75"/><circle cx="634.4" cy="396.9" r="2.75"/><circle cx="637.6" cy="396" r="2.75"/><circle cx="638.7" cy="396.5" r="2.75"/><circle cx="515.5" cy="398.2" r="2.75"/><circle cx="518.6" cy="397.4" r="2.75"/><circle cx="520.1" cy="399.2" r="2.75"/><circle cx="523.2" cy="397.8" r="2.75"/><circle cx="526.1" cy="398.8" r="2.75"/><circle cx="528" cy="399.2" r="2.75"/><circle cx="530" cy="398.3" r="2.75"/><circle cx="532.1" cy="398.9" r="2.75"/><circle cx="534.4" cy="398.5" r="2.75"/><circle cx="537.9" cy="399.2" r="2.75"/><circle cx="539.9" cy="398" r="2.75"/><circle cx="541.7" cy="398.1" r="2.75"/><circle cx="543.9" cy="399.1" r="2.75"/><circle cx="546.4" cy="399" r="2.75"/><circle cx="549.2" cy="397.5" r="2.75"/><circle cx="552.5" cy="399.1" r="2.75"/><circle cx="553.5" cy="399.1" r="2.75"/><circle cx="556" cy="398.4" r="2.75"/><circle cx="558.8" cy="397.7" r="2.75"/><circle cx="560.9" cy="398.9" r="2.75"/><circle cx="563.9" cy="398.3" r="2.75"/><circle cx="565.6" cy="398.6" r="2.75"/><circle cx="568.6" cy="398.6" r="2.75"/><circle cx="571.3" cy="399.1" r="2.75"/><circle cx="573.7" cy="398.5" r="2.75"/><circle cx="575.5" cy="397.7" r="2.75"/><circle cx="579" cy="397.9" r="2.75"/><circle cx="581.3" cy="398.7" r="2.75"/><circle cx="582.3" cy="398.9" r="2.75"/><circle cx="584.9" cy="398.1" r="2.75"/><circle cx="587.2" cy="398.1" r="2.75"/><circle cx="590.6" cy="398.2" r="2.75"/><circle cx="593.1" cy="398.8" r="2.75"/><circle cx="594.6" cy="398.7" r="2.75"/><circle cx="597.3" cy="399.1" r="2.75"/><circle cx="600.3" cy="397.6" r="2.75"/><circle cx="602.5" cy="397.5" r="2.75"/><circle cx="605" cy="397.5" r="2.75"/><circle cx="606.4" cy="399" r="2.75"/><circle cx="609.5" cy="399" r="2.75"/><circle cx="610.9" cy="398.3" r="2.75"/><circle cx="613.4" cy="398.8" r="2.75"/><circle cx="616.4" cy="397.9" r="2.75"/><circle cx="618.9" cy="397.5" r="2.75"/><circle cx="621.5" cy="398.7" r="2.75"/><circle cx="624.4" cy="398.5" r="2.75"/><circle cx="625.9" cy="399.1" r="2.75"/><circle cx="629.4" cy="398.7" r="2.75"/><circle cx="631.7" cy="397.8" r="2.75"/><circle cx="633.9" cy="398.5" r="2.75"/><circle cx="635" cy="398.1" r="2.75"/><circle cx="638.5" cy="399.2" r="2.75"/><circle cx="508.2" cy="401" r="2.75"/><circle cx="509.6" cy="400.3" r="2.75"/><circle cx="512.8" cy="400.2" r="2.75"/><circle cx="514.1" cy="399.8" r="2.75"/><circle cx="516.5" cy="400.8" r="2.75"/><circle cx="519.6" cy="400.9" r="2.75"/><circle cx="521.8" cy="400.8" r="2.75"/><circle cx="524.1" cy="400.9" r="2.75"/><circle cx="526.9" cy="400.7" r="2.75"/><circle cx="529.7" cy="400.1" r="2.75"/><circle cx="532.2" cy="400.5" r="2.75"/><circle cx="533" cy="401.1" r="2.75"/><circle cx="535.3" cy="400.8" r="2.75"/><circle cx="539.2" cy="400.3" r="2.75"/><circle cx="540.2" cy="399.5" r="2.75"/><circle cx="543.5" cy="400.6" r="2.75"/><circle cx="546.5" cy="401.1" r="2.75"/><circle cx="548.1" cy="401" r="2.75"/><circle cx="550.6" cy="400.1" r="2.75"/><circle cx="553" cy="399.7" r="2.75"/><circle cx="555.4" cy="400.6" r="2.75"/><circle cx="557.2" cy="399.6" r="2.75"/><circle cx="560.4" cy="401.3" r="2.75"/><circle cx="563.4" cy="401.3" r="2.75"/><circle cx="565.3" cy="400.9" r="2.75"/><circle cx="567.9" cy="400.5" r="2.75"/><circle cx="569.9" cy="400.3" r="2.75"/><circle cx="572.7" cy="400" r="2.75"/><circle cx="575.2" cy="401" r="2.75"/><circle cx="577.5" cy="400.1" r="2.75"/><circle cx="579.5" cy="400" r="2.75"/><circle cx="581.8" cy="399.6" r="2.75"/><circle cx="583.3" cy="399.9" r="2.75"/><circle cx="586.1" cy="401.3" r="2.75"/><circle cx="588.9" cy="400.4" r="2.75"/><circle cx="592.1" cy="400.5" r="2.75"/><circle cx="593.1" cy="399.9" r="2.75"/><circle cx="595.5" cy="400" r="2.75"/><circle cx="598.1" cy="400" r="2.75"/><circle cx="600.6" cy="400.9" r="2.75"/><circle cx="603.9" cy="400.8" r="2.75"/><circle cx="605.4" cy="399.7" r="2.75"/><circle cx="608.2" cy="399.9" r="2.75"/><circle cx="611.4" cy="400.7" r="2.75"/><circle cx="612.9" cy="401.1" r="2.75"/><circle cx="614.8" cy="399.5" r="2.75"/><circle cx="617.9" cy="401.2" r="2.75"/><circle cx="619.9" cy="400.4" r="2.75"/><circle cx="622.1" cy="400.2" r="2.75"/><circle cx="625.2" cy="399.5" r="2.75"/><circle cx="626.6" cy="401.1" r="2.75"/><circle cx="630.5" cy="399.9" r="2.75"/><circle cx="632.8" cy="400.3" r="2.75"/><circle cx="633.8" cy="399.6" r="2.75"/><circle cx="636.4" cy="400.5" r="2.75"/><circle cx="638.7" cy="400.4" r="2.75"/><circle cx="503.5" cy="403.1" r="2.75"/><circle cx="507" cy="402" r="2.75"/><circle cx="509.3" cy="402.7" r="2.75"/><circle cx="511.1" cy="402.2" r="2.75"/><circle cx="514.3" cy="402.9" r="2.75"/><circle cx="516.3" cy="402.4" r="2.75"/><circle cx="518.2" cy="402.1" r="2.75"/><circle cx="520.4" cy="402.8" r="2.75"/><circle cx="523.5" cy="401.8" r="2.75"/><circle cx="524.8" cy="401.8" r="2.75"/><circle cx="528.3" cy="402.9" r="2.75"/><circle cx="530.1" cy="401.8" r="2.75"/><circle cx="533.4" cy="402.5" r="2.75"/><circle cx="535.7" cy="402.1" r="2.75"/><circle cx="537.3" cy="402.8" r="2.75"/><circle cx="539.7" cy="401.6" r="2.75"/><circle cx="542.4" cy="401.6" r="2.75"/><circle cx="544.9" cy="402.4" r="2.75"/><circle cx="547.3" cy="401.9" r="2.75"/><circle cx="548.9" cy="402.2" r="2.75"/><circle cx="552.7" cy="402.8" r="2.75"/><circle cx="553.6" cy="402" r="2.75"/><circle cx="556.7" cy="403.3" r="2.75"/><circle cx="559.2" cy="402" r="2.75"/><circle cx="562.2" cy="401.9" r="2.75"/><circle cx="563.3" cy="402" r="2.75"/><circle cx="566.6" cy="403" r="2.75"/><circle cx="568.4" cy="403.2" r="2.75"/><circle cx="570.2" cy="403" r="2.75"/><circle cx="574.2" cy="401.8" r="2.75"/><circle cx="575.4" cy="401.8" r="2.75"/><circle cx="577.9" cy="401.8" r="2.75"/><circle cx="580.1" cy="401.6" r="2.75"/><circle cx="583.5" cy="403" r="2.75"/><circle cx="585.5" cy="402.8" r="2.75"/><circle cx="587.9" cy="402.5" r="2.75"/><circle cx="590.9" cy="403.2" r="2.75"/><circle cx="592.2" cy="402.5" r="2.75"/><circle cx="595.3" cy="403" r="2.75"/><circle cx="598.2" cy="401.9" r="2.75"/><circle cx="599.5" cy="403" r="2.75"/><circle cx="602.2" cy="403.3" r="2.75"/><circle cx="604.2" cy="402.2" r="2.75"/><circle cx="606.5" cy="402.4" r="2.75"/><circle cx="609.6" cy="402.2" r="2.75"/><circle cx="612.7" cy="403.3" r="2.75"/><circle cx="613.8" cy="402.1" r="2.75"/><circle cx="615.8" cy="402" r="2.75"/><circle cx="619.6" cy="402" r="2.75"/><circle cx="621.8" cy="402.3" r="2.75"/><circle cx="624.2" cy="403.1" r="2.75"/><circle cx="625.8" cy="403.3" r="2.75"/><circle cx="628" cy="401.7" r="2.75"/><circle cx="630.3" cy="403.1" r="2.75"/><circle cx="634.2" cy="403.3" r="2.75"/><circle cx="636.5" cy="402.6" r="2.75"/><circle cx="638.8" cy="402.1" r="2.75"/><circle cx="504.9" cy="403.8" r="2.75"/><circle cx="506.7" cy="405.4" r="2.75"/><circle cx="509.2" cy="404.7" r="2.75"/><circle cx="511.7" cy="403.9" r="2.75"/><circle cx="514.9" cy="405" r="2.75"/><circle cx="517.4" cy="404.1" r="2.75"/><circle cx="518.6" cy="405.1" r="2.75"/><circle cx="521.7" cy="405.4" r="2.75"/><circle cx="525" cy="404.7" r="2.75"/><circle cx="526" cy="405.4" r="2.75"/><circle cx="529.7" cy="404" r="2.75"/><circle cx="530.8" cy="404.2" r="2.75"/><circle cx="534.4" cy="404.1" r="2.75"/><circle cx="537" cy="403.9" r="2.75"/><circle cx="539.1" cy="404.5" r="2.75"/><circle cx="540.8" cy="404.2" r="2.75"/><circle cx="544" cy="404.9" r="2.75"/><circle cx="544.9" cy="404.6" r="2.75"/><circle cx="548.9" cy="404.1" r="2.75"/><circle cx="549.8" cy="405.2" r="2.75"/><circle cx="553.8" cy="405" r="2.75"/><circle cx="555.9" cy="403.8" r="2.75"/><circle cx="557.7" cy="405" r="2.75"/><circle cx="560.2" cy="405.2" r="2.75"/><circle cx="562" cy="404.7" r="2.75"/><circle cx="565.4" cy="404.1" r="2.75"/><circle cx="568.2" cy="404.4" r="2.75"/><circle cx="570.3" cy="404.3" r="2.75"/><circle cx="571.4" cy="405.1" r="2.75"/><circle cx="573.8" cy="404.9" r="2.75"/><circle cx="577.8" cy="404.2" r="2.75"/><circle cx="580" cy="404.8" r="2.75"/><circle cx="582.5" cy="403.7" r="2.75"/><circle cx="584" cy="403.9" r="2.75"/><circle cx="586.3" cy="404.1" r="2.75"/><circle cx="589" cy="405.2" r="2.75"/><circle cx="591.3" cy="404" r="2.75"/><circle cx="594.7" cy="405.1" r="2.75"/><circle cx="596.2" cy="405.2" r="2.75"/><circle cx="598.8" cy="404.3" r="2.75"/><circle cx="601.1" cy="403.8" r="2.75"/><circle cx="604.3" cy="404.2" r="2.75"/><circle cx="606.2" cy="404.7" r="2.75"/><circle cx="609" cy="404.8" r="2.75"/><circle cx="609.8" cy="403.7" r="2.75"/><circle cx="612.8" cy="403.9" r="2.75"/><circle cx="618" cy="404.1" r="2.75"/><circle cx="620.4" cy="404.2" r="2.75"/><circle cx="623" cy="404.1" r="2.75"/><circle cx="625.6" cy="405" r="2.75"/><circle cx="627.2" cy="403.7" r="2.75"/><circle cx="629.9" cy="404.4" r="2.75"/><circle cx="632.6" cy="404" r="2.75"/><circle cx="634.6" cy="405" r="2.75"/><circle cx="508.2" cy="406.3" r="2.75"/><circle cx="511.2" cy="407.5" r="2.75"/><circle cx="512.5" cy="406.2" r="2.75"/><circle cx="516.5" cy="405.8" r="2.75"/><circle cx="519" cy="405.8" r="2.75"/><circle cx="520" cy="406.5" r="2.75"/><circle cx="522.5" cy="407.1" r="2.75"/><circle cx="525.8" cy="405.8" r="2.75"/><circle cx="528.7" cy="407.3" r="2.75"/><circle cx="529.8" cy="407" r="2.75"/><circle cx="532.4" cy="406.2" r="2.75"/><circle cx="540.4" cy="407.2" r="2.75"/><circle cx="541.7" cy="406.9" r="2.75"/><circle cx="544.2" cy="406" r="2.75"/><circle cx="546.9" cy="406.3" r="2.75"/><circle cx="549.5" cy="405.9" r="2.75"/><circle cx="552.7" cy="406.3" r="2.75"/><circle cx="554.7" cy="405.9" r="2.75"/><circle cx="556.6" cy="407" r="2.75"/><circle cx="558.9" cy="407" r="2.75"/><circle cx="561.2" cy="406.2" r="2.75"/><circle cx="563.8" cy="406.6" r="2.75"/><circle cx="566.9" cy="406" r="2.75"/><circle cx="568.9" cy="407.5" r="2.75"/><circle cx="571.2" cy="406.6" r="2.75"/><circle cx="573.5" cy="406.2" r="2.75"/><circle cx="575.4" cy="406.2" r="2.75"/><circle cx="577.4" cy="407.3" r="2.75"/><circle cx="581.5" cy="407.2" r="2.75"/><circle cx="583.8" cy="407.1" r="2.75"/><circle cx="584.9" cy="406.5" r="2.75"/><circle cx="587.9" cy="406.8" r="2.75"/><circle cx="590.3" cy="406.2" r="2.75"/><circle cx="592.5" cy="406.9" r="2.75"/><circle cx="595.1" cy="406.1" r="2.75"/><circle cx="598.3" cy="405.8" r="2.75"/><circle cx="600.5" cy="405.8" r="2.75"/><circle cx="601.7" cy="406.1" r="2.75"/><circle cx="604.7" cy="406.7" r="2.75"/><circle cx="512.7" cy="408.1" r="2.75"/><circle cx="514.1" cy="408.7" r="2.75"/><circle cx="517.1" cy="408.5" r="2.75"/><circle cx="520.2" cy="408.2" r="2.75"/><circle cx="522.4" cy="408.9" r="2.75"/><circle cx="524.4" cy="408.4" r="2.75"/><circle cx="527.5" cy="409.4" r="2.75"/><circle cx="528.5" cy="409" r="2.75"/><circle cx="543" cy="409" r="2.75"/><circle cx="545.2" cy="408.5" r="2.75"/><circle cx="548.1" cy="408.7" r="2.75"/><circle cx="564.3" cy="408.3" r="2.75"/><circle cx="570.6" cy="408.5" r="2.75"/><circle cx="571.6" cy="408.4" r="2.75"/><circle cx="574" cy="408" r="2.75"/><circle cx="577.8" cy="409" r="2.75"/><circle cx="578.6" cy="409.4" r="2.75"/><circle cx="581.6" cy="408.1" r="2.75"/><circle cx="584.5" cy="408.4" r="2.75"/><circle cx="588.4" cy="408.1" r="2.75"/></g>
<path class="f" d="M464.8 403.3L686.4 391.9"/>
<path class="g" d="M500 401.49L643 394.13"/>
</g>
</svg>
</body></html>
